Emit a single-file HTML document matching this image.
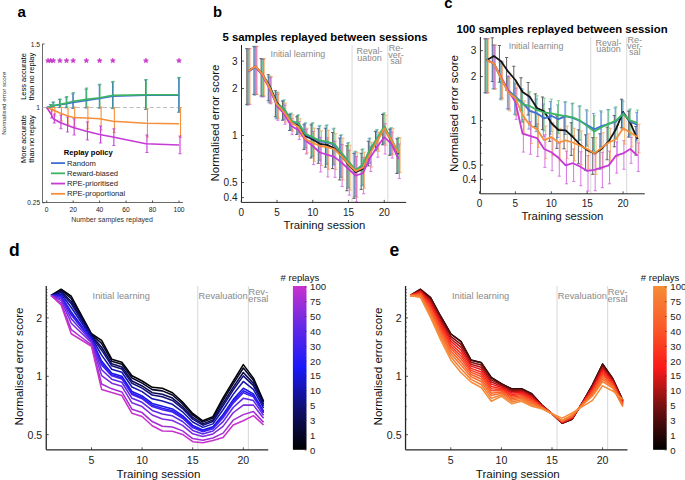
<!DOCTYPE html>
<html><head><meta charset="utf-8"><style>
html,body{margin:0;padding:0;background:#fff;}
svg{display:block;font-family:"Liberation Sans", sans-serif;}
</style></head><body>
<svg width="685" height="480" viewBox="0 0 685 480">
<rect width="685" height="480" fill="#fff"/>
<text x="17.60" y="17.10" font-size="15" text-anchor="start" font-weight="bold" fill="#000">a</text>
<line x1="42.50" y1="44.00" x2="42.50" y2="202.50" stroke="#444" stroke-width="0.8"/>
<line x1="42.50" y1="202.50" x2="183.00" y2="202.50" stroke="#444" stroke-width="0.8"/>
<line x1="42.50" y1="44.00" x2="44.50" y2="44.00" stroke="#262626" stroke-width="0.8"/>
<line x1="42.50" y1="107.50" x2="44.50" y2="107.50" stroke="#262626" stroke-width="0.8"/>
<line x1="42.50" y1="202.75" x2="44.50" y2="202.75" stroke="#262626" stroke-width="0.8"/>
<line x1="46.70" y1="202.50" x2="46.70" y2="200.50" stroke="#262626" stroke-width="0.8"/>
<text x="46.70" y="211.90" font-size="6.7" text-anchor="middle" font-weight="normal" fill="#222">0</text>
<line x1="73.16" y1="202.50" x2="73.16" y2="200.50" stroke="#262626" stroke-width="0.8"/>
<text x="73.16" y="211.90" font-size="6.7" text-anchor="middle" font-weight="normal" fill="#222">20</text>
<line x1="99.62" y1="202.50" x2="99.62" y2="200.50" stroke="#262626" stroke-width="0.8"/>
<text x="99.62" y="211.90" font-size="6.7" text-anchor="middle" font-weight="normal" fill="#222">40</text>
<line x1="126.08" y1="202.50" x2="126.08" y2="200.50" stroke="#262626" stroke-width="0.8"/>
<text x="126.08" y="211.90" font-size="6.7" text-anchor="middle" font-weight="normal" fill="#222">60</text>
<line x1="152.54" y1="202.50" x2="152.54" y2="200.50" stroke="#262626" stroke-width="0.8"/>
<text x="152.54" y="211.90" font-size="6.7" text-anchor="middle" font-weight="normal" fill="#222">80</text>
<line x1="179.00" y1="202.50" x2="179.00" y2="200.50" stroke="#262626" stroke-width="0.8"/>
<text x="179.00" y="211.90" font-size="6.7" text-anchor="middle" font-weight="normal" fill="#222">100</text>
<text x="40.00" y="46.60" font-size="6.7" text-anchor="end" font-weight="normal" fill="#222">1.5</text>
<text x="40.00" y="110.00" font-size="6.7" text-anchor="end" font-weight="normal" fill="#222">1</text>
<text x="40.00" y="205.00" font-size="6.5" text-anchor="end" font-weight="normal" fill="#222">0.25</text>
<text x="112.00" y="221.60" font-size="7" text-anchor="middle" font-weight="normal" fill="#333">Number samples replayed</text>
<text x="6.20" y="103.30" font-size="6.2" text-anchor="middle" font-weight="normal" fill="#333" transform="rotate(-90 6.2 103.3)">Normalised error score</text>
<text x="25.50" y="76.50" font-size="7.5" text-anchor="middle" font-weight="normal" fill="#000" transform="rotate(-90 25.5 76.5)">Less accurate</text>
<text x="33.50" y="76.50" font-size="7.5" text-anchor="middle" font-weight="normal" fill="#000" transform="rotate(-90 33.5 76.5)">than no replay</text>
<text x="25.50" y="139.00" font-size="7.5" text-anchor="middle" font-weight="normal" fill="#000" transform="rotate(-90 25.5 139)">More accurate</text>
<text x="33.50" y="139.00" font-size="7.5" text-anchor="middle" font-weight="normal" fill="#000" transform="rotate(-90 33.5 139)">than no replay</text>
<line x1="42.5" y1="107.5" x2="183" y2="107.5" stroke="#bdbdbd" stroke-width="1" stroke-dasharray="4,2.7"/>
<line x1="50.37" y1="104.70" x2="50.37" y2="107.40" stroke="#3f6fd6" stroke-width="1.1"/>
<line x1="48.77" y1="104.70" x2="51.97" y2="104.70" stroke="#3f6fd6" stroke-width="0.8"/>
<line x1="48.77" y1="107.40" x2="51.97" y2="107.40" stroke="#3f6fd6" stroke-width="0.8"/>
<line x1="53.02" y1="102.30" x2="53.02" y2="107.30" stroke="#3f6fd6" stroke-width="1.1"/>
<line x1="51.42" y1="102.30" x2="54.62" y2="102.30" stroke="#3f6fd6" stroke-width="0.8"/>
<line x1="51.42" y1="107.30" x2="54.62" y2="107.30" stroke="#3f6fd6" stroke-width="0.8"/>
<line x1="59.63" y1="99.50" x2="59.63" y2="107.50" stroke="#3f6fd6" stroke-width="1.1"/>
<line x1="58.03" y1="99.50" x2="61.23" y2="99.50" stroke="#3f6fd6" stroke-width="0.8"/>
<line x1="58.03" y1="107.50" x2="61.23" y2="107.50" stroke="#3f6fd6" stroke-width="0.8"/>
<line x1="66.25" y1="97.30" x2="66.25" y2="107.70" stroke="#3f6fd6" stroke-width="1.1"/>
<line x1="64.65" y1="97.30" x2="67.84" y2="97.30" stroke="#3f6fd6" stroke-width="0.8"/>
<line x1="64.65" y1="107.70" x2="67.84" y2="107.70" stroke="#3f6fd6" stroke-width="0.8"/>
<line x1="72.86" y1="93.80" x2="72.86" y2="108.50" stroke="#3f6fd6" stroke-width="1.1"/>
<line x1="71.26" y1="93.80" x2="74.46" y2="93.80" stroke="#3f6fd6" stroke-width="0.8"/>
<line x1="71.26" y1="108.50" x2="74.46" y2="108.50" stroke="#3f6fd6" stroke-width="0.8"/>
<line x1="86.09" y1="89.10" x2="86.09" y2="108.10" stroke="#3f6fd6" stroke-width="1.1"/>
<line x1="84.49" y1="89.10" x2="87.69" y2="89.10" stroke="#3f6fd6" stroke-width="0.8"/>
<line x1="84.49" y1="108.10" x2="87.69" y2="108.10" stroke="#3f6fd6" stroke-width="0.8"/>
<line x1="99.32" y1="84.90" x2="99.32" y2="108.20" stroke="#3f6fd6" stroke-width="1.1"/>
<line x1="97.72" y1="84.90" x2="100.92" y2="84.90" stroke="#3f6fd6" stroke-width="0.8"/>
<line x1="97.72" y1="108.20" x2="100.92" y2="108.20" stroke="#3f6fd6" stroke-width="0.8"/>
<line x1="112.55" y1="82.20" x2="112.55" y2="108.60" stroke="#3f6fd6" stroke-width="1.1"/>
<line x1="110.95" y1="82.20" x2="114.15" y2="82.20" stroke="#3f6fd6" stroke-width="0.8"/>
<line x1="110.95" y1="108.60" x2="114.15" y2="108.60" stroke="#3f6fd6" stroke-width="0.8"/>
<line x1="145.62" y1="80.00" x2="145.62" y2="109.50" stroke="#3f6fd6" stroke-width="1.1"/>
<line x1="144.03" y1="80.00" x2="147.22" y2="80.00" stroke="#3f6fd6" stroke-width="0.8"/>
<line x1="144.03" y1="109.50" x2="147.22" y2="109.50" stroke="#3f6fd6" stroke-width="0.8"/>
<line x1="178.70" y1="77.90" x2="178.70" y2="112.30" stroke="#3f6fd6" stroke-width="1.1"/>
<line x1="177.10" y1="77.90" x2="180.30" y2="77.90" stroke="#3f6fd6" stroke-width="0.8"/>
<line x1="177.10" y1="112.30" x2="180.30" y2="112.30" stroke="#3f6fd6" stroke-width="0.8"/>
<line x1="50.97" y1="104.50" x2="50.97" y2="107.20" stroke="#3db462" stroke-width="1.1"/>
<line x1="49.37" y1="104.50" x2="52.57" y2="104.50" stroke="#3db462" stroke-width="0.8"/>
<line x1="49.37" y1="107.20" x2="52.57" y2="107.20" stroke="#3db462" stroke-width="0.8"/>
<line x1="53.62" y1="102.00" x2="53.62" y2="107.00" stroke="#3db462" stroke-width="1.1"/>
<line x1="52.02" y1="102.00" x2="55.22" y2="102.00" stroke="#3db462" stroke-width="0.8"/>
<line x1="52.02" y1="107.00" x2="55.22" y2="107.00" stroke="#3db462" stroke-width="0.8"/>
<line x1="60.23" y1="99.00" x2="60.23" y2="107.00" stroke="#3db462" stroke-width="1.1"/>
<line x1="58.63" y1="99.00" x2="61.83" y2="99.00" stroke="#3db462" stroke-width="0.8"/>
<line x1="58.63" y1="107.00" x2="61.83" y2="107.00" stroke="#3db462" stroke-width="0.8"/>
<line x1="66.84" y1="96.60" x2="66.84" y2="107.00" stroke="#3db462" stroke-width="1.1"/>
<line x1="65.25" y1="96.60" x2="68.44" y2="96.60" stroke="#3db462" stroke-width="0.8"/>
<line x1="65.25" y1="107.00" x2="68.44" y2="107.00" stroke="#3db462" stroke-width="0.8"/>
<line x1="73.46" y1="92.60" x2="73.46" y2="107.30" stroke="#3db462" stroke-width="1.1"/>
<line x1="71.86" y1="92.60" x2="75.06" y2="92.60" stroke="#3db462" stroke-width="0.8"/>
<line x1="71.86" y1="107.30" x2="75.06" y2="107.30" stroke="#3db462" stroke-width="0.8"/>
<line x1="86.69" y1="88.00" x2="86.69" y2="107.00" stroke="#3db462" stroke-width="1.1"/>
<line x1="85.09" y1="88.00" x2="88.29" y2="88.00" stroke="#3db462" stroke-width="0.8"/>
<line x1="85.09" y1="107.00" x2="88.29" y2="107.00" stroke="#3db462" stroke-width="0.8"/>
<line x1="99.92" y1="84.20" x2="99.92" y2="107.50" stroke="#3db462" stroke-width="1.1"/>
<line x1="98.32" y1="84.20" x2="101.52" y2="84.20" stroke="#3db462" stroke-width="0.8"/>
<line x1="98.32" y1="107.50" x2="101.52" y2="107.50" stroke="#3db462" stroke-width="0.8"/>
<line x1="113.15" y1="81.40" x2="113.15" y2="107.80" stroke="#3db462" stroke-width="1.1"/>
<line x1="111.55" y1="81.40" x2="114.75" y2="81.40" stroke="#3db462" stroke-width="0.8"/>
<line x1="111.55" y1="107.80" x2="114.75" y2="107.80" stroke="#3db462" stroke-width="0.8"/>
<line x1="146.23" y1="79.50" x2="146.23" y2="109.00" stroke="#3db462" stroke-width="1.1"/>
<line x1="144.63" y1="79.50" x2="147.83" y2="79.50" stroke="#3db462" stroke-width="0.8"/>
<line x1="144.63" y1="109.00" x2="147.83" y2="109.00" stroke="#3db462" stroke-width="0.8"/>
<line x1="179.30" y1="77.40" x2="179.30" y2="111.80" stroke="#3db462" stroke-width="1.1"/>
<line x1="177.70" y1="77.40" x2="180.90" y2="77.40" stroke="#3db462" stroke-width="0.8"/>
<line x1="177.70" y1="111.80" x2="180.90" y2="111.80" stroke="#3db462" stroke-width="0.8"/>
<line x1="52.17" y1="107.50" x2="52.17" y2="111.00" stroke="#f58f3c" stroke-width="1.1"/>
<line x1="50.57" y1="107.50" x2="53.77" y2="107.50" stroke="#f58f3c" stroke-width="0.8"/>
<line x1="50.57" y1="111.00" x2="53.77" y2="111.00" stroke="#f58f3c" stroke-width="0.8"/>
<line x1="54.82" y1="107.50" x2="54.82" y2="116.00" stroke="#f58f3c" stroke-width="1.1"/>
<line x1="53.22" y1="107.50" x2="56.42" y2="107.50" stroke="#f58f3c" stroke-width="0.8"/>
<line x1="53.22" y1="116.00" x2="56.42" y2="116.00" stroke="#f58f3c" stroke-width="0.8"/>
<line x1="61.43" y1="107.50" x2="61.43" y2="121.00" stroke="#f58f3c" stroke-width="1.1"/>
<line x1="59.83" y1="107.50" x2="63.03" y2="107.50" stroke="#f58f3c" stroke-width="0.8"/>
<line x1="59.83" y1="121.00" x2="63.03" y2="121.00" stroke="#f58f3c" stroke-width="0.8"/>
<line x1="68.05" y1="108.75" x2="68.05" y2="124.50" stroke="#f58f3c" stroke-width="1.1"/>
<line x1="66.45" y1="108.75" x2="69.64" y2="108.75" stroke="#f58f3c" stroke-width="0.8"/>
<line x1="66.45" y1="124.50" x2="69.64" y2="124.50" stroke="#f58f3c" stroke-width="0.8"/>
<line x1="74.66" y1="107.00" x2="74.66" y2="126.75" stroke="#f58f3c" stroke-width="1.1"/>
<line x1="73.06" y1="107.00" x2="76.26" y2="107.00" stroke="#f58f3c" stroke-width="0.8"/>
<line x1="73.06" y1="126.75" x2="76.26" y2="126.75" stroke="#f58f3c" stroke-width="0.8"/>
<line x1="87.89" y1="107.00" x2="87.89" y2="128.75" stroke="#f58f3c" stroke-width="1.1"/>
<line x1="86.29" y1="107.00" x2="89.49" y2="107.00" stroke="#f58f3c" stroke-width="0.8"/>
<line x1="86.29" y1="128.75" x2="89.49" y2="128.75" stroke="#f58f3c" stroke-width="0.8"/>
<line x1="101.12" y1="107.00" x2="101.12" y2="130.00" stroke="#f58f3c" stroke-width="1.1"/>
<line x1="99.52" y1="107.00" x2="102.72" y2="107.00" stroke="#f58f3c" stroke-width="0.8"/>
<line x1="99.52" y1="130.00" x2="102.72" y2="130.00" stroke="#f58f3c" stroke-width="0.8"/>
<line x1="114.35" y1="107.50" x2="114.35" y2="132.50" stroke="#f58f3c" stroke-width="1.1"/>
<line x1="112.75" y1="107.50" x2="115.95" y2="107.50" stroke="#f58f3c" stroke-width="0.8"/>
<line x1="112.75" y1="132.50" x2="115.95" y2="132.50" stroke="#f58f3c" stroke-width="0.8"/>
<line x1="147.43" y1="108.75" x2="147.43" y2="137.00" stroke="#f58f3c" stroke-width="1.1"/>
<line x1="145.83" y1="108.75" x2="149.03" y2="108.75" stroke="#f58f3c" stroke-width="0.8"/>
<line x1="145.83" y1="137.00" x2="149.03" y2="137.00" stroke="#f58f3c" stroke-width="0.8"/>
<line x1="180.50" y1="107.50" x2="180.50" y2="137.50" stroke="#f58f3c" stroke-width="1.1"/>
<line x1="178.90" y1="107.50" x2="182.10" y2="107.50" stroke="#f58f3c" stroke-width="0.8"/>
<line x1="178.90" y1="137.50" x2="182.10" y2="137.50" stroke="#f58f3c" stroke-width="0.8"/>
<line x1="51.67" y1="109.50" x2="51.67" y2="118.00" stroke="#c63ad6" stroke-width="1.1"/>
<line x1="50.07" y1="109.50" x2="53.27" y2="109.50" stroke="#c63ad6" stroke-width="0.8"/>
<line x1="50.07" y1="118.00" x2="53.27" y2="118.00" stroke="#c63ad6" stroke-width="0.8"/>
<line x1="54.32" y1="114.00" x2="54.32" y2="123.00" stroke="#c63ad6" stroke-width="1.1"/>
<line x1="52.72" y1="114.00" x2="55.92" y2="114.00" stroke="#c63ad6" stroke-width="0.8"/>
<line x1="52.72" y1="123.00" x2="55.92" y2="123.00" stroke="#c63ad6" stroke-width="0.8"/>
<line x1="60.93" y1="115.00" x2="60.93" y2="128.75" stroke="#c63ad6" stroke-width="1.1"/>
<line x1="59.33" y1="115.00" x2="62.53" y2="115.00" stroke="#c63ad6" stroke-width="0.8"/>
<line x1="59.33" y1="128.75" x2="62.53" y2="128.75" stroke="#c63ad6" stroke-width="0.8"/>
<line x1="67.55" y1="117.00" x2="67.55" y2="132.00" stroke="#c63ad6" stroke-width="1.1"/>
<line x1="65.95" y1="117.00" x2="69.14" y2="117.00" stroke="#c63ad6" stroke-width="0.8"/>
<line x1="65.95" y1="132.00" x2="69.14" y2="132.00" stroke="#c63ad6" stroke-width="0.8"/>
<line x1="74.16" y1="118.75" x2="74.16" y2="135.00" stroke="#c63ad6" stroke-width="1.1"/>
<line x1="72.56" y1="118.75" x2="75.76" y2="118.75" stroke="#c63ad6" stroke-width="0.8"/>
<line x1="72.56" y1="135.00" x2="75.76" y2="135.00" stroke="#c63ad6" stroke-width="0.8"/>
<line x1="87.39" y1="122.00" x2="87.39" y2="140.00" stroke="#c63ad6" stroke-width="1.1"/>
<line x1="85.79" y1="122.00" x2="88.99" y2="122.00" stroke="#c63ad6" stroke-width="0.8"/>
<line x1="85.79" y1="140.00" x2="88.99" y2="140.00" stroke="#c63ad6" stroke-width="0.8"/>
<line x1="100.62" y1="126.00" x2="100.62" y2="143.00" stroke="#c63ad6" stroke-width="1.1"/>
<line x1="99.02" y1="126.00" x2="102.22" y2="126.00" stroke="#c63ad6" stroke-width="0.8"/>
<line x1="99.02" y1="143.00" x2="102.22" y2="143.00" stroke="#c63ad6" stroke-width="0.8"/>
<line x1="113.85" y1="128.75" x2="113.85" y2="145.50" stroke="#c63ad6" stroke-width="1.1"/>
<line x1="112.25" y1="128.75" x2="115.45" y2="128.75" stroke="#c63ad6" stroke-width="0.8"/>
<line x1="112.25" y1="145.50" x2="115.45" y2="145.50" stroke="#c63ad6" stroke-width="0.8"/>
<line x1="146.93" y1="135.00" x2="146.93" y2="152.50" stroke="#c63ad6" stroke-width="1.1"/>
<line x1="145.33" y1="135.00" x2="148.53" y2="135.00" stroke="#c63ad6" stroke-width="0.8"/>
<line x1="145.33" y1="152.50" x2="148.53" y2="152.50" stroke="#c63ad6" stroke-width="0.8"/>
<line x1="180.00" y1="136.00" x2="180.00" y2="153.75" stroke="#c63ad6" stroke-width="1.1"/>
<line x1="178.40" y1="136.00" x2="181.60" y2="136.00" stroke="#c63ad6" stroke-width="0.8"/>
<line x1="178.40" y1="153.75" x2="181.60" y2="153.75" stroke="#c63ad6" stroke-width="0.8"/>
<polyline points="46.70,107.50 50.67,106.70 53.32,105.80 59.93,104.80 66.55,103.80 73.16,102.50 86.39,100.50 99.62,98.50 112.85,96.20 145.93,95.20 179.00,95.20" fill="none" stroke="#3f6fd6" stroke-width="1.6" stroke-linejoin="round"/>
<polyline points="46.70,107.50 50.67,106.50 53.32,105.50 59.93,104.30 66.55,103.10 73.16,101.30 86.39,99.40 99.62,97.80 112.85,95.40 145.93,94.70 179.00,94.70" fill="none" stroke="#3db462" stroke-width="1.6" stroke-linejoin="round"/>
<polyline points="46.70,107.50 50.67,109.00 53.32,110.00 59.93,113.00 66.55,115.50 73.16,117.50 86.39,118.00 99.62,118.75 112.85,121.25 145.93,123.25 179.00,123.75" fill="none" stroke="#f58f3c" stroke-width="1.6" stroke-linejoin="round"/>
<polyline points="46.70,107.50 50.67,113.50 53.32,118.75 59.93,122.50 66.55,125.00 73.16,127.50 86.39,131.25 99.62,134.50 112.85,137.00 145.93,143.75 179.00,145.00" fill="none" stroke="#c63ad6" stroke-width="1.6" stroke-linejoin="round"/>
<polygon points="48.02,58.10 48.71,59.75 50.50,59.90 49.14,61.06 49.55,62.80 48.02,61.87 46.49,62.80 46.91,61.06 45.55,59.90 47.34,59.75" fill="#c83ccc" stroke="#c83ccc" stroke-width="0.6" stroke-linejoin="round"/>
<polygon points="50.67,58.10 51.36,59.75 53.14,59.90 51.78,61.06 52.20,62.80 50.67,61.87 49.14,62.80 49.56,61.06 48.20,59.90 49.98,59.75" fill="#c83ccc" stroke="#c83ccc" stroke-width="0.6" stroke-linejoin="round"/>
<polygon points="53.32,58.10 54.00,59.75 55.79,59.90 54.43,61.06 54.84,62.80 53.32,61.87 51.79,62.80 52.20,61.06 50.84,59.90 52.63,59.75" fill="#c83ccc" stroke="#c83ccc" stroke-width="0.6" stroke-linejoin="round"/>
<polygon points="59.93,58.10 60.62,59.75 62.40,59.90 61.04,61.06 61.46,62.80 59.93,61.87 58.40,62.80 58.82,61.06 57.46,59.90 59.24,59.75" fill="#c83ccc" stroke="#c83ccc" stroke-width="0.6" stroke-linejoin="round"/>
<polygon points="66.55,58.10 67.23,59.75 69.02,59.90 67.66,61.06 68.07,62.80 66.55,61.87 65.02,62.80 65.43,61.06 64.07,59.90 65.86,59.75" fill="#c83ccc" stroke="#c83ccc" stroke-width="0.6" stroke-linejoin="round"/>
<polygon points="73.16,58.10 73.85,59.75 75.63,59.90 74.27,61.06 74.69,62.80 73.16,61.87 71.63,62.80 72.05,61.06 70.69,59.90 72.47,59.75" fill="#c83ccc" stroke="#c83ccc" stroke-width="0.6" stroke-linejoin="round"/>
<polygon points="86.39,58.10 87.08,59.75 88.86,59.90 87.50,61.06 87.92,62.80 86.39,61.87 84.86,62.80 85.28,61.06 83.92,59.90 85.70,59.75" fill="#c83ccc" stroke="#c83ccc" stroke-width="0.6" stroke-linejoin="round"/>
<polygon points="99.62,58.10 100.31,59.75 102.09,59.90 100.73,61.06 101.15,62.80 99.62,61.87 98.09,62.80 98.51,61.06 97.15,59.90 98.93,59.75" fill="#c83ccc" stroke="#c83ccc" stroke-width="0.6" stroke-linejoin="round"/>
<polygon points="112.85,58.10 113.54,59.75 115.32,59.90 113.96,61.06 114.38,62.80 112.85,61.87 111.32,62.80 111.74,61.06 110.38,59.90 112.16,59.75" fill="#c83ccc" stroke="#c83ccc" stroke-width="0.6" stroke-linejoin="round"/>
<polygon points="145.93,58.10 146.61,59.75 148.40,59.90 147.04,61.06 147.45,62.80 145.93,61.87 144.40,62.80 144.81,61.06 143.45,59.90 145.24,59.75" fill="#c83ccc" stroke="#c83ccc" stroke-width="0.6" stroke-linejoin="round"/>
<polygon points="179.00,58.10 179.69,59.75 181.47,59.90 180.11,61.06 180.53,62.80 179.00,61.87 177.47,62.80 177.89,61.06 176.53,59.90 178.31,59.75" fill="#c83ccc" stroke="#c83ccc" stroke-width="0.6" stroke-linejoin="round"/>
<text x="88.30" y="154.60" font-size="7.6" text-anchor="middle" font-weight="bold" fill="#000">Replay policy</text>
<line x1="51.00" y1="163.10" x2="65.00" y2="163.10" stroke="#3f6fd6" stroke-width="1.8"/>
<text x="67.00" y="165.70" font-size="7.6" text-anchor="start" font-weight="normal" fill="#222">Random</text>
<line x1="51.00" y1="173.33" x2="65.00" y2="173.33" stroke="#3db462" stroke-width="1.8"/>
<text x="67.00" y="175.93" font-size="7.6" text-anchor="start" font-weight="normal" fill="#222">Reward-biased</text>
<line x1="51.00" y1="183.56" x2="65.00" y2="183.56" stroke="#c63ad6" stroke-width="1.8"/>
<text x="67.00" y="186.16" font-size="7.6" text-anchor="start" font-weight="normal" fill="#222">RPE-prioritised</text>
<line x1="51.00" y1="193.79" x2="65.00" y2="193.79" stroke="#f58f3c" stroke-width="1.8"/>
<text x="67.00" y="196.39" font-size="7.6" text-anchor="start" font-weight="normal" fill="#222">RPE-proportional</text>
<text x="213.00" y="16.90" font-size="14.8" text-anchor="start" font-weight="bold" fill="#000">b</text>
<text x="325.00" y="40.70" font-size="11.35" text-anchor="middle" font-weight="bold" fill="#000">5 samples replayed between sessions</text>
<line x1="352.07" y1="45.00" x2="352.07" y2="202.40" stroke="#cdcdcd" stroke-width="0.8"/>
<line x1="387.83" y1="45.00" x2="387.83" y2="202.40" stroke="#cdcdcd" stroke-width="0.8"/>
<line x1="241.50" y1="45.00" x2="241.50" y2="202.40" stroke="#262626" stroke-width="1"/>
<line x1="241.50" y1="202.40" x2="406.20" y2="202.40" stroke="#262626" stroke-width="1"/>
<line x1="241.50" y1="61.07" x2="244.00" y2="61.07" stroke="#262626" stroke-width="0.8"/>
<text x="237.50" y="64.67" font-size="10" text-anchor="end" font-weight="normal" fill="#222">3</text>
<line x1="241.50" y1="88.54" x2="244.00" y2="88.54" stroke="#262626" stroke-width="0.8"/>
<text x="237.50" y="92.14" font-size="10" text-anchor="end" font-weight="normal" fill="#222">2</text>
<line x1="241.50" y1="135.50" x2="244.00" y2="135.50" stroke="#262626" stroke-width="0.8"/>
<text x="237.50" y="139.10" font-size="10" text-anchor="end" font-weight="normal" fill="#222">1</text>
<line x1="241.50" y1="182.46" x2="244.00" y2="182.46" stroke="#262626" stroke-width="0.8"/>
<text x="237.50" y="186.06" font-size="10" text-anchor="end" font-weight="normal" fill="#222">0.5</text>
<line x1="241.50" y1="197.58" x2="244.00" y2="197.58" stroke="#262626" stroke-width="0.8"/>
<text x="237.50" y="201.18" font-size="10" text-anchor="end" font-weight="normal" fill="#222">0.4</text>
<line x1="241.50" y1="170.11" x2="242.90" y2="170.11" stroke="#262626" stroke-width="0.6"/>
<line x1="241.50" y1="159.66" x2="242.90" y2="159.66" stroke="#262626" stroke-width="0.6"/>
<line x1="241.50" y1="150.62" x2="242.90" y2="150.62" stroke="#262626" stroke-width="0.6"/>
<line x1="241.50" y1="142.64" x2="242.90" y2="142.64" stroke="#262626" stroke-width="0.6"/>
<line x1="241.25" y1="202.40" x2="241.25" y2="199.90" stroke="#262626" stroke-width="0.8"/>
<text x="241.25" y="216.00" font-size="10" text-anchor="middle" font-weight="normal" fill="#222">0</text>
<line x1="277.00" y1="202.40" x2="277.00" y2="199.90" stroke="#262626" stroke-width="0.8"/>
<text x="277.00" y="216.00" font-size="10" text-anchor="middle" font-weight="normal" fill="#222">5</text>
<line x1="312.75" y1="202.40" x2="312.75" y2="199.90" stroke="#262626" stroke-width="0.8"/>
<text x="312.75" y="216.00" font-size="10" text-anchor="middle" font-weight="normal" fill="#222">10</text>
<line x1="348.50" y1="202.40" x2="348.50" y2="199.90" stroke="#262626" stroke-width="0.8"/>
<text x="348.50" y="216.00" font-size="10" text-anchor="middle" font-weight="normal" fill="#222">15</text>
<line x1="384.25" y1="202.40" x2="384.25" y2="199.90" stroke="#262626" stroke-width="0.8"/>
<text x="384.25" y="216.00" font-size="10" text-anchor="middle" font-weight="normal" fill="#222">20</text>
<text x="324.40" y="228.80" font-size="11.3" text-anchor="middle" font-weight="normal" fill="#111">Training session</text>
<text x="218.80" y="123.00" font-size="11.5" text-anchor="middle" font-weight="normal" fill="#111" transform="rotate(-90 218.8 123)">Normalised error score</text>
<text x="270.50" y="57.00" font-size="8.9" text-anchor="start" font-weight="normal" fill="#8a8a8a">Initial learning</text>
<text x="369.50" y="53.80" font-size="9" text-anchor="middle" font-weight="normal" fill="#8a8a8a">Reval-</text>
<text x="369.50" y="60.60" font-size="9" text-anchor="middle" font-weight="normal" fill="#8a8a8a">uation</text>
<text x="396.00" y="50.70" font-size="9" text-anchor="middle" font-weight="normal" fill="#8a8a8a">Re-</text>
<text x="396.00" y="57.70" font-size="9" text-anchor="middle" font-weight="normal" fill="#8a8a8a">ver-</text>
<text x="396.00" y="63.70" font-size="9" text-anchor="middle" font-weight="normal" fill="#8a8a8a">sal</text>
<g stroke="#151515" opacity="0.8"><line x1="246.80" y1="48.59" x2="246.80" y2="104.39" stroke-width="0.85"/><line x1="245.20" y1="48.59" x2="248.40" y2="48.59" stroke-width="0.8"/><line x1="245.20" y1="104.39" x2="248.40" y2="104.39" stroke-width="0.8"/></g>
<g stroke="#151515" opacity="0.8"><line x1="253.95" y1="46.42" x2="253.95" y2="94.40" stroke-width="0.85"/><line x1="252.35" y1="46.42" x2="255.55" y2="46.42" stroke-width="0.8"/><line x1="252.35" y1="94.40" x2="255.55" y2="94.40" stroke-width="0.8"/></g>
<g stroke="#151515" opacity="0.8"><line x1="261.10" y1="58.51" x2="261.10" y2="96.02" stroke-width="0.85"/><line x1="259.50" y1="58.51" x2="262.70" y2="58.51" stroke-width="0.8"/><line x1="259.50" y1="96.02" x2="262.70" y2="96.02" stroke-width="0.8"/></g>
<g stroke="#151515" opacity="0.8"><line x1="268.25" y1="74.71" x2="268.25" y2="100.78" stroke-width="0.85"/><line x1="266.65" y1="74.71" x2="269.85" y2="74.71" stroke-width="0.8"/><line x1="266.65" y1="100.78" x2="269.85" y2="100.78" stroke-width="0.8"/></g>
<g stroke="#151515" opacity="0.8"><line x1="275.40" y1="90.71" x2="275.40" y2="116.78" stroke-width="0.85"/><line x1="273.80" y1="90.71" x2="277.00" y2="90.71" stroke-width="0.8"/><line x1="273.80" y1="116.78" x2="277.00" y2="116.78" stroke-width="0.8"/></g>
<g stroke="#151515" opacity="0.8"><line x1="282.55" y1="101.12" x2="282.55" y2="120.22" stroke-width="0.85"/><line x1="280.95" y1="101.12" x2="284.15" y2="101.12" stroke-width="0.8"/><line x1="280.95" y1="120.22" x2="284.15" y2="120.22" stroke-width="0.8"/></g>
<g stroke="#151515" opacity="0.8"><line x1="289.70" y1="114.22" x2="289.70" y2="130.56" stroke-width="0.85"/><line x1="288.10" y1="114.22" x2="291.30" y2="114.22" stroke-width="0.8"/><line x1="288.10" y1="130.56" x2="291.30" y2="130.56" stroke-width="0.8"/></g>
<g stroke="#151515" opacity="0.8"><line x1="296.85" y1="116.72" x2="296.85" y2="134.43" stroke-width="0.85"/><line x1="295.25" y1="116.72" x2="298.45" y2="116.72" stroke-width="0.8"/><line x1="295.25" y1="134.43" x2="298.45" y2="134.43" stroke-width="0.8"/></g>
<g stroke="#151515" opacity="0.8"><line x1="304.00" y1="124.79" x2="304.00" y2="149.45" stroke-width="0.85"/><line x1="302.40" y1="124.79" x2="305.60" y2="124.79" stroke-width="0.8"/><line x1="302.40" y1="149.45" x2="305.60" y2="149.45" stroke-width="0.8"/></g>
<g stroke="#151515" opacity="0.8"><line x1="311.15" y1="124.83" x2="311.15" y2="157.99" stroke-width="0.85"/><line x1="309.55" y1="124.83" x2="312.75" y2="124.83" stroke-width="0.8"/><line x1="309.55" y1="157.99" x2="312.75" y2="157.99" stroke-width="0.8"/></g>
<g stroke="#151515" opacity="0.8"><line x1="318.30" y1="128.68" x2="318.30" y2="163.29" stroke-width="0.85"/><line x1="316.70" y1="128.68" x2="319.90" y2="128.68" stroke-width="0.8"/><line x1="316.70" y1="163.29" x2="319.90" y2="163.29" stroke-width="0.8"/></g>
<g stroke="#151515" opacity="0.8"><line x1="325.45" y1="128.18" x2="325.45" y2="167.16" stroke-width="0.85"/><line x1="323.85" y1="128.18" x2="327.05" y2="128.18" stroke-width="0.8"/><line x1="323.85" y1="167.16" x2="327.05" y2="167.16" stroke-width="0.8"/></g>
<g stroke="#151515" opacity="0.8"><line x1="332.60" y1="132.54" x2="332.60" y2="168.60" stroke-width="0.85"/><line x1="331.00" y1="132.54" x2="334.20" y2="132.54" stroke-width="0.8"/><line x1="331.00" y1="168.60" x2="334.20" y2="168.60" stroke-width="0.8"/></g>
<g stroke="#151515" opacity="0.8"><line x1="339.75" y1="138.02" x2="339.75" y2="179.96" stroke-width="0.85"/><line x1="338.15" y1="138.02" x2="341.35" y2="138.02" stroke-width="0.8"/><line x1="338.15" y1="179.96" x2="341.35" y2="179.96" stroke-width="0.8"/></g>
<g stroke="#151515" opacity="0.8"><line x1="346.90" y1="145.79" x2="346.90" y2="190.73" stroke-width="0.85"/><line x1="345.30" y1="145.79" x2="348.50" y2="145.79" stroke-width="0.8"/><line x1="345.30" y1="190.73" x2="348.50" y2="190.73" stroke-width="0.8"/></g>
<g stroke="#151515" opacity="0.8"><line x1="354.05" y1="153.39" x2="354.05" y2="198.33" stroke-width="0.85"/><line x1="352.45" y1="153.39" x2="355.65" y2="153.39" stroke-width="0.8"/><line x1="352.45" y1="198.33" x2="355.65" y2="198.33" stroke-width="0.8"/></g>
<g stroke="#151515" opacity="0.8"><line x1="361.20" y1="153.34" x2="361.20" y2="189.40" stroke-width="0.85"/><line x1="359.60" y1="153.34" x2="362.80" y2="153.34" stroke-width="0.8"/><line x1="359.60" y1="189.40" x2="362.80" y2="189.40" stroke-width="0.8"/></g>
<g stroke="#151515" opacity="0.8"><line x1="368.35" y1="141.29" x2="368.35" y2="165.95" stroke-width="0.85"/><line x1="366.75" y1="141.29" x2="369.95" y2="141.29" stroke-width="0.8"/><line x1="366.75" y1="165.95" x2="369.95" y2="165.95" stroke-width="0.8"/></g>
<g stroke="#151515" opacity="0.8"><line x1="375.50" y1="131.62" x2="375.50" y2="150.72" stroke-width="0.85"/><line x1="373.90" y1="131.62" x2="377.10" y2="131.62" stroke-width="0.8"/><line x1="373.90" y1="150.72" x2="377.10" y2="150.72" stroke-width="0.8"/></g>
<g stroke="#151515" opacity="0.8"><line x1="382.65" y1="114.53" x2="382.65" y2="144.83" stroke-width="0.85"/><line x1="381.05" y1="114.53" x2="384.25" y2="114.53" stroke-width="0.8"/><line x1="381.05" y1="144.83" x2="384.25" y2="144.83" stroke-width="0.8"/></g>
<g stroke="#151515" opacity="0.8"><line x1="389.80" y1="129.21" x2="389.80" y2="155.28" stroke-width="0.85"/><line x1="388.20" y1="129.21" x2="391.40" y2="129.21" stroke-width="0.8"/><line x1="388.20" y1="155.28" x2="391.40" y2="155.28" stroke-width="0.8"/></g>
<g stroke="#151515" opacity="0.8"><line x1="396.95" y1="138.88" x2="396.95" y2="173.49" stroke-width="0.85"/><line x1="395.35" y1="138.88" x2="398.55" y2="138.88" stroke-width="0.8"/><line x1="395.35" y1="173.49" x2="398.55" y2="173.49" stroke-width="0.8"/></g>
<g stroke="#3f6fd6" opacity="0.8"><line x1="247.60" y1="49.39" x2="247.60" y2="105.19" stroke-width="0.85"/><line x1="246.00" y1="49.39" x2="249.20" y2="49.39" stroke-width="0.8"/><line x1="246.00" y1="105.19" x2="249.20" y2="105.19" stroke-width="0.8"/></g>
<g stroke="#3f6fd6" opacity="0.8"><line x1="254.75" y1="47.22" x2="254.75" y2="95.20" stroke-width="0.85"/><line x1="253.15" y1="47.22" x2="256.35" y2="47.22" stroke-width="0.8"/><line x1="253.15" y1="95.20" x2="256.35" y2="95.20" stroke-width="0.8"/></g>
<g stroke="#3f6fd6" opacity="0.8"><line x1="261.90" y1="59.31" x2="261.90" y2="96.82" stroke-width="0.85"/><line x1="260.30" y1="59.31" x2="263.50" y2="59.31" stroke-width="0.8"/><line x1="260.30" y1="96.82" x2="263.50" y2="96.82" stroke-width="0.8"/></g>
<g stroke="#3f6fd6" opacity="0.8"><line x1="269.05" y1="76.81" x2="269.05" y2="102.88" stroke-width="0.85"/><line x1="267.45" y1="76.81" x2="270.65" y2="76.81" stroke-width="0.8"/><line x1="267.45" y1="102.88" x2="270.65" y2="102.88" stroke-width="0.8"/></g>
<g stroke="#3f6fd6" opacity="0.8"><line x1="276.20" y1="92.76" x2="276.20" y2="118.83" stroke-width="0.85"/><line x1="274.60" y1="92.76" x2="277.80" y2="92.76" stroke-width="0.8"/><line x1="274.60" y1="118.83" x2="277.80" y2="118.83" stroke-width="0.8"/></g>
<g stroke="#3f6fd6" opacity="0.8"><line x1="283.35" y1="100.67" x2="283.35" y2="119.77" stroke-width="0.85"/><line x1="281.75" y1="100.67" x2="284.95" y2="100.67" stroke-width="0.8"/><line x1="281.75" y1="119.77" x2="284.95" y2="119.77" stroke-width="0.8"/></g>
<g stroke="#3f6fd6" opacity="0.8"><line x1="290.50" y1="113.92" x2="290.50" y2="130.26" stroke-width="0.85"/><line x1="288.90" y1="113.92" x2="292.10" y2="113.92" stroke-width="0.8"/><line x1="288.90" y1="130.26" x2="292.10" y2="130.26" stroke-width="0.8"/></g>
<g stroke="#3f6fd6" opacity="0.8"><line x1="297.65" y1="115.52" x2="297.65" y2="133.23" stroke-width="0.85"/><line x1="296.05" y1="115.52" x2="299.25" y2="115.52" stroke-width="0.8"/><line x1="296.05" y1="133.23" x2="299.25" y2="133.23" stroke-width="0.8"/></g>
<g stroke="#3f6fd6" opacity="0.8"><line x1="304.80" y1="123.49" x2="304.80" y2="148.15" stroke-width="0.85"/><line x1="303.20" y1="123.49" x2="306.40" y2="123.49" stroke-width="0.8"/><line x1="303.20" y1="148.15" x2="306.40" y2="148.15" stroke-width="0.8"/></g>
<g stroke="#3f6fd6" opacity="0.8"><line x1="311.95" y1="123.43" x2="311.95" y2="156.59" stroke-width="0.85"/><line x1="310.35" y1="123.43" x2="313.55" y2="123.43" stroke-width="0.8"/><line x1="310.35" y1="156.59" x2="313.55" y2="156.59" stroke-width="0.8"/></g>
<g stroke="#3f6fd6" opacity="0.8"><line x1="319.10" y1="126.18" x2="319.10" y2="160.79" stroke-width="0.85"/><line x1="317.50" y1="126.18" x2="320.70" y2="126.18" stroke-width="0.8"/><line x1="317.50" y1="160.79" x2="320.70" y2="160.79" stroke-width="0.8"/></g>
<g stroke="#3f6fd6" opacity="0.8"><line x1="326.25" y1="125.68" x2="326.25" y2="164.66" stroke-width="0.85"/><line x1="324.65" y1="125.68" x2="327.85" y2="125.68" stroke-width="0.8"/><line x1="324.65" y1="164.66" x2="327.85" y2="164.66" stroke-width="0.8"/></g>
<g stroke="#3f6fd6" opacity="0.8"><line x1="333.40" y1="128.94" x2="333.40" y2="165.00" stroke-width="0.85"/><line x1="331.80" y1="128.94" x2="335.00" y2="128.94" stroke-width="0.8"/><line x1="331.80" y1="165.00" x2="335.00" y2="165.00" stroke-width="0.8"/></g>
<g stroke="#3f6fd6" opacity="0.8"><line x1="340.55" y1="135.52" x2="340.55" y2="177.46" stroke-width="0.85"/><line x1="338.95" y1="135.52" x2="342.15" y2="135.52" stroke-width="0.8"/><line x1="338.95" y1="177.46" x2="342.15" y2="177.46" stroke-width="0.8"/></g>
<g stroke="#3f6fd6" opacity="0.8"><line x1="347.70" y1="143.29" x2="347.70" y2="188.23" stroke-width="0.85"/><line x1="346.10" y1="143.29" x2="349.30" y2="143.29" stroke-width="0.8"/><line x1="346.10" y1="188.23" x2="349.30" y2="188.23" stroke-width="0.8"/></g>
<g stroke="#3f6fd6" opacity="0.8"><line x1="354.85" y1="151.99" x2="354.85" y2="196.93" stroke-width="0.85"/><line x1="353.25" y1="151.99" x2="356.45" y2="151.99" stroke-width="0.8"/><line x1="353.25" y1="196.93" x2="356.45" y2="196.93" stroke-width="0.8"/></g>
<g stroke="#3f6fd6" opacity="0.8"><line x1="362.00" y1="149.74" x2="362.00" y2="185.80" stroke-width="0.85"/><line x1="360.40" y1="149.74" x2="363.60" y2="149.74" stroke-width="0.8"/><line x1="360.40" y1="185.80" x2="363.60" y2="185.80" stroke-width="0.8"/></g>
<g stroke="#3f6fd6" opacity="0.8"><line x1="369.15" y1="138.79" x2="369.15" y2="163.45" stroke-width="0.85"/><line x1="367.55" y1="138.79" x2="370.75" y2="138.79" stroke-width="0.8"/><line x1="367.55" y1="163.45" x2="370.75" y2="163.45" stroke-width="0.8"/></g>
<g stroke="#3f6fd6" opacity="0.8"><line x1="376.30" y1="130.22" x2="376.30" y2="149.32" stroke-width="0.85"/><line x1="374.70" y1="130.22" x2="377.90" y2="130.22" stroke-width="0.8"/><line x1="374.70" y1="149.32" x2="377.90" y2="149.32" stroke-width="0.8"/></g>
<g stroke="#3f6fd6" opacity="0.8"><line x1="383.45" y1="113.63" x2="383.45" y2="143.93" stroke-width="0.85"/><line x1="381.85" y1="113.63" x2="385.05" y2="113.63" stroke-width="0.8"/><line x1="381.85" y1="143.93" x2="385.05" y2="143.93" stroke-width="0.8"/></g>
<g stroke="#3f6fd6" opacity="0.8"><line x1="390.60" y1="128.41" x2="390.60" y2="154.48" stroke-width="0.85"/><line x1="389.00" y1="128.41" x2="392.20" y2="128.41" stroke-width="0.8"/><line x1="389.00" y1="154.48" x2="392.20" y2="154.48" stroke-width="0.8"/></g>
<g stroke="#3f6fd6" opacity="0.8"><line x1="397.75" y1="138.18" x2="397.75" y2="172.79" stroke-width="0.85"/><line x1="396.15" y1="138.18" x2="399.35" y2="138.18" stroke-width="0.8"/><line x1="396.15" y1="172.79" x2="399.35" y2="172.79" stroke-width="0.8"/></g>
<g stroke="#3db462" opacity="0.8"><line x1="248.40" y1="48.59" x2="248.40" y2="104.39" stroke-width="0.85"/><line x1="246.80" y1="48.59" x2="250.00" y2="48.59" stroke-width="0.8"/><line x1="246.80" y1="104.39" x2="250.00" y2="104.39" stroke-width="0.8"/></g>
<g stroke="#3db462" opacity="0.8"><line x1="255.55" y1="46.42" x2="255.55" y2="94.40" stroke-width="0.85"/><line x1="253.95" y1="46.42" x2="257.15" y2="46.42" stroke-width="0.8"/><line x1="253.95" y1="94.40" x2="257.15" y2="94.40" stroke-width="0.8"/></g>
<g stroke="#3db462" opacity="0.8"><line x1="262.70" y1="58.51" x2="262.70" y2="96.02" stroke-width="0.85"/><line x1="261.10" y1="58.51" x2="264.30" y2="58.51" stroke-width="0.8"/><line x1="261.10" y1="96.02" x2="264.30" y2="96.02" stroke-width="0.8"/></g>
<g stroke="#3db462" opacity="0.8"><line x1="269.85" y1="76.01" x2="269.85" y2="102.08" stroke-width="0.85"/><line x1="268.25" y1="76.01" x2="271.45" y2="76.01" stroke-width="0.8"/><line x1="268.25" y1="102.08" x2="271.45" y2="102.08" stroke-width="0.8"/></g>
<g stroke="#3db462" opacity="0.8"><line x1="277.00" y1="91.96" x2="277.00" y2="118.03" stroke-width="0.85"/><line x1="275.40" y1="91.96" x2="278.60" y2="91.96" stroke-width="0.8"/><line x1="275.40" y1="118.03" x2="278.60" y2="118.03" stroke-width="0.8"/></g>
<g stroke="#3db462" opacity="0.8"><line x1="284.15" y1="99.87" x2="284.15" y2="118.97" stroke-width="0.85"/><line x1="282.55" y1="99.87" x2="285.75" y2="99.87" stroke-width="0.8"/><line x1="282.55" y1="118.97" x2="285.75" y2="118.97" stroke-width="0.8"/></g>
<g stroke="#3db462" opacity="0.8"><line x1="291.30" y1="113.12" x2="291.30" y2="129.46" stroke-width="0.85"/><line x1="289.70" y1="113.12" x2="292.90" y2="113.12" stroke-width="0.8"/><line x1="289.70" y1="129.46" x2="292.90" y2="129.46" stroke-width="0.8"/></g>
<g stroke="#3db462" opacity="0.8"><line x1="298.45" y1="114.72" x2="298.45" y2="132.43" stroke-width="0.85"/><line x1="296.85" y1="114.72" x2="300.05" y2="114.72" stroke-width="0.8"/><line x1="296.85" y1="132.43" x2="300.05" y2="132.43" stroke-width="0.8"/></g>
<g stroke="#3db462" opacity="0.8"><line x1="305.60" y1="122.69" x2="305.60" y2="147.35" stroke-width="0.85"/><line x1="304.00" y1="122.69" x2="307.20" y2="122.69" stroke-width="0.8"/><line x1="304.00" y1="147.35" x2="307.20" y2="147.35" stroke-width="0.8"/></g>
<g stroke="#3db462" opacity="0.8"><line x1="312.75" y1="122.63" x2="312.75" y2="155.79" stroke-width="0.85"/><line x1="311.15" y1="122.63" x2="314.35" y2="122.63" stroke-width="0.8"/><line x1="311.15" y1="155.79" x2="314.35" y2="155.79" stroke-width="0.8"/></g>
<g stroke="#3db462" opacity="0.8"><line x1="319.90" y1="125.38" x2="319.90" y2="159.99" stroke-width="0.85"/><line x1="318.30" y1="125.38" x2="321.50" y2="125.38" stroke-width="0.8"/><line x1="318.30" y1="159.99" x2="321.50" y2="159.99" stroke-width="0.8"/></g>
<g stroke="#3db462" opacity="0.8"><line x1="327.05" y1="124.88" x2="327.05" y2="163.86" stroke-width="0.85"/><line x1="325.45" y1="124.88" x2="328.65" y2="124.88" stroke-width="0.8"/><line x1="325.45" y1="163.86" x2="328.65" y2="163.86" stroke-width="0.8"/></g>
<g stroke="#3db462" opacity="0.8"><line x1="334.20" y1="128.14" x2="334.20" y2="164.20" stroke-width="0.85"/><line x1="332.60" y1="128.14" x2="335.80" y2="128.14" stroke-width="0.8"/><line x1="332.60" y1="164.20" x2="335.80" y2="164.20" stroke-width="0.8"/></g>
<g stroke="#3db462" opacity="0.8"><line x1="341.35" y1="134.72" x2="341.35" y2="176.66" stroke-width="0.85"/><line x1="339.75" y1="134.72" x2="342.95" y2="134.72" stroke-width="0.8"/><line x1="339.75" y1="176.66" x2="342.95" y2="176.66" stroke-width="0.8"/></g>
<g stroke="#3db462" opacity="0.8"><line x1="348.50" y1="142.49" x2="348.50" y2="187.43" stroke-width="0.85"/><line x1="346.90" y1="142.49" x2="350.10" y2="142.49" stroke-width="0.8"/><line x1="346.90" y1="187.43" x2="350.10" y2="187.43" stroke-width="0.8"/></g>
<g stroke="#3db462" opacity="0.8"><line x1="355.65" y1="151.19" x2="355.65" y2="196.13" stroke-width="0.85"/><line x1="354.05" y1="151.19" x2="357.25" y2="151.19" stroke-width="0.8"/><line x1="354.05" y1="196.13" x2="357.25" y2="196.13" stroke-width="0.8"/></g>
<g stroke="#3db462" opacity="0.8"><line x1="362.80" y1="148.94" x2="362.80" y2="185.00" stroke-width="0.85"/><line x1="361.20" y1="148.94" x2="364.40" y2="148.94" stroke-width="0.8"/><line x1="361.20" y1="185.00" x2="364.40" y2="185.00" stroke-width="0.8"/></g>
<g stroke="#3db462" opacity="0.8"><line x1="369.95" y1="137.99" x2="369.95" y2="162.65" stroke-width="0.85"/><line x1="368.35" y1="137.99" x2="371.55" y2="137.99" stroke-width="0.8"/><line x1="368.35" y1="162.65" x2="371.55" y2="162.65" stroke-width="0.8"/></g>
<g stroke="#3db462" opacity="0.8"><line x1="377.10" y1="129.42" x2="377.10" y2="148.52" stroke-width="0.85"/><line x1="375.50" y1="129.42" x2="378.70" y2="129.42" stroke-width="0.8"/><line x1="375.50" y1="148.52" x2="378.70" y2="148.52" stroke-width="0.8"/></g>
<g stroke="#3db462" opacity="0.8"><line x1="384.25" y1="112.83" x2="384.25" y2="143.13" stroke-width="0.85"/><line x1="382.65" y1="112.83" x2="385.85" y2="112.83" stroke-width="0.8"/><line x1="382.65" y1="143.13" x2="385.85" y2="143.13" stroke-width="0.8"/></g>
<g stroke="#3db462" opacity="0.8"><line x1="391.40" y1="127.61" x2="391.40" y2="153.68" stroke-width="0.85"/><line x1="389.80" y1="127.61" x2="393.00" y2="127.61" stroke-width="0.8"/><line x1="389.80" y1="153.68" x2="393.00" y2="153.68" stroke-width="0.8"/></g>
<g stroke="#3db462" opacity="0.8"><line x1="398.55" y1="137.38" x2="398.55" y2="171.99" stroke-width="0.85"/><line x1="396.95" y1="137.38" x2="400.15" y2="137.38" stroke-width="0.8"/><line x1="396.95" y1="171.99" x2="400.15" y2="171.99" stroke-width="0.8"/></g>
<g stroke="#c63ad6" opacity="0.8"><line x1="249.20" y1="48.59" x2="249.20" y2="104.39" stroke-width="0.85"/><line x1="247.60" y1="48.59" x2="250.80" y2="48.59" stroke-width="0.8"/><line x1="247.60" y1="104.39" x2="250.80" y2="104.39" stroke-width="0.8"/></g>
<g stroke="#c63ad6" opacity="0.8"><line x1="256.35" y1="46.42" x2="256.35" y2="94.40" stroke-width="0.85"/><line x1="254.75" y1="46.42" x2="257.95" y2="46.42" stroke-width="0.8"/><line x1="254.75" y1="94.40" x2="257.95" y2="94.40" stroke-width="0.8"/></g>
<g stroke="#c63ad6" opacity="0.8"><line x1="263.50" y1="59.31" x2="263.50" y2="96.82" stroke-width="0.85"/><line x1="261.90" y1="59.31" x2="265.10" y2="59.31" stroke-width="0.8"/><line x1="261.90" y1="96.82" x2="265.10" y2="96.82" stroke-width="0.8"/></g>
<g stroke="#c63ad6" opacity="0.8"><line x1="270.65" y1="77.71" x2="270.65" y2="103.78" stroke-width="0.85"/><line x1="269.05" y1="77.71" x2="272.25" y2="77.71" stroke-width="0.8"/><line x1="269.05" y1="103.78" x2="272.25" y2="103.78" stroke-width="0.8"/></g>
<g stroke="#c63ad6" opacity="0.8"><line x1="277.80" y1="94.21" x2="277.80" y2="120.28" stroke-width="0.85"/><line x1="276.20" y1="94.21" x2="279.40" y2="94.21" stroke-width="0.8"/><line x1="276.20" y1="120.28" x2="279.40" y2="120.28" stroke-width="0.8"/></g>
<g stroke="#c63ad6" opacity="0.8"><line x1="284.95" y1="105.12" x2="284.95" y2="124.22" stroke-width="0.85"/><line x1="283.35" y1="105.12" x2="286.55" y2="105.12" stroke-width="0.8"/><line x1="283.35" y1="124.22" x2="286.55" y2="124.22" stroke-width="0.8"/></g>
<g stroke="#c63ad6" opacity="0.8"><line x1="292.10" y1="118.32" x2="292.10" y2="134.66" stroke-width="0.85"/><line x1="290.50" y1="118.32" x2="293.70" y2="118.32" stroke-width="0.8"/><line x1="290.50" y1="134.66" x2="293.70" y2="134.66" stroke-width="0.8"/></g>
<g stroke="#c63ad6" opacity="0.8"><line x1="299.25" y1="121.72" x2="299.25" y2="139.43" stroke-width="0.85"/><line x1="297.65" y1="121.72" x2="300.85" y2="121.72" stroke-width="0.8"/><line x1="297.65" y1="139.43" x2="300.85" y2="139.43" stroke-width="0.8"/></g>
<g stroke="#c63ad6" opacity="0.8"><line x1="306.40" y1="129.29" x2="306.40" y2="153.95" stroke-width="0.85"/><line x1="304.80" y1="129.29" x2="308.00" y2="129.29" stroke-width="0.8"/><line x1="304.80" y1="153.95" x2="308.00" y2="153.95" stroke-width="0.8"/></g>
<g stroke="#c63ad6" opacity="0.8"><line x1="313.55" y1="131.43" x2="313.55" y2="164.59" stroke-width="0.85"/><line x1="311.95" y1="131.43" x2="315.15" y2="131.43" stroke-width="0.8"/><line x1="311.95" y1="164.59" x2="315.15" y2="164.59" stroke-width="0.8"/></g>
<g stroke="#c63ad6" opacity="0.8"><line x1="320.70" y1="137.38" x2="320.70" y2="171.99" stroke-width="0.85"/><line x1="319.10" y1="137.38" x2="322.30" y2="137.38" stroke-width="0.8"/><line x1="319.10" y1="171.99" x2="322.30" y2="171.99" stroke-width="0.8"/></g>
<g stroke="#c63ad6" opacity="0.8"><line x1="327.85" y1="137.98" x2="327.85" y2="176.96" stroke-width="0.85"/><line x1="326.25" y1="137.98" x2="329.45" y2="137.98" stroke-width="0.8"/><line x1="326.25" y1="176.96" x2="329.45" y2="176.96" stroke-width="0.8"/></g>
<g stroke="#c63ad6" opacity="0.8"><line x1="335.00" y1="141.24" x2="335.00" y2="177.30" stroke-width="0.85"/><line x1="333.40" y1="141.24" x2="336.60" y2="141.24" stroke-width="0.8"/><line x1="333.40" y1="177.30" x2="336.60" y2="177.30" stroke-width="0.8"/></g>
<g stroke="#c63ad6" opacity="0.8"><line x1="342.15" y1="144.62" x2="342.15" y2="186.56" stroke-width="0.85"/><line x1="340.55" y1="144.62" x2="343.75" y2="144.62" stroke-width="0.8"/><line x1="340.55" y1="186.56" x2="343.75" y2="186.56" stroke-width="0.8"/></g>
<g stroke="#c63ad6" opacity="0.8"><line x1="349.30" y1="150.19" x2="349.30" y2="195.13" stroke-width="0.85"/><line x1="347.70" y1="150.19" x2="350.90" y2="150.19" stroke-width="0.8"/><line x1="347.70" y1="195.13" x2="350.90" y2="195.13" stroke-width="0.8"/></g>
<g stroke="#c63ad6" opacity="0.8"><line x1="356.45" y1="156.69" x2="356.45" y2="201.63" stroke-width="0.85"/><line x1="354.85" y1="156.69" x2="358.05" y2="156.69" stroke-width="0.8"/><line x1="354.85" y1="201.63" x2="358.05" y2="201.63" stroke-width="0.8"/></g>
<g stroke="#c63ad6" opacity="0.8"><line x1="363.60" y1="157.64" x2="363.60" y2="193.70" stroke-width="0.85"/><line x1="362.00" y1="157.64" x2="365.20" y2="157.64" stroke-width="0.8"/><line x1="362.00" y1="193.70" x2="365.20" y2="193.70" stroke-width="0.8"/></g>
<g stroke="#c63ad6" opacity="0.8"><line x1="370.75" y1="146.79" x2="370.75" y2="171.45" stroke-width="0.85"/><line x1="369.15" y1="146.79" x2="372.35" y2="146.79" stroke-width="0.8"/><line x1="369.15" y1="171.45" x2="372.35" y2="171.45" stroke-width="0.8"/></g>
<g stroke="#c63ad6" opacity="0.8"><line x1="377.90" y1="138.12" x2="377.90" y2="157.22" stroke-width="0.85"/><line x1="376.30" y1="138.12" x2="379.50" y2="138.12" stroke-width="0.8"/><line x1="376.30" y1="157.22" x2="379.50" y2="157.22" stroke-width="0.8"/></g>
<g stroke="#c63ad6" opacity="0.8"><line x1="385.05" y1="123.73" x2="385.05" y2="154.03" stroke-width="0.85"/><line x1="383.45" y1="123.73" x2="386.65" y2="123.73" stroke-width="0.8"/><line x1="383.45" y1="154.03" x2="386.65" y2="154.03" stroke-width="0.8"/></g>
<g stroke="#c63ad6" opacity="0.8"><line x1="392.20" y1="132.01" x2="392.20" y2="158.08" stroke-width="0.85"/><line x1="390.60" y1="132.01" x2="393.80" y2="132.01" stroke-width="0.8"/><line x1="390.60" y1="158.08" x2="393.80" y2="158.08" stroke-width="0.8"/></g>
<g stroke="#c63ad6" opacity="0.8"><line x1="399.35" y1="143.98" x2="399.35" y2="178.59" stroke-width="0.85"/><line x1="397.75" y1="143.98" x2="400.95" y2="143.98" stroke-width="0.8"/><line x1="397.75" y1="178.59" x2="400.95" y2="178.59" stroke-width="0.8"/></g>
<g stroke="#f58f3c" opacity="0.8"><line x1="250.00" y1="48.59" x2="250.00" y2="104.39" stroke-width="0.85"/><line x1="248.40" y1="48.59" x2="251.60" y2="48.59" stroke-width="0.8"/><line x1="248.40" y1="104.39" x2="251.60" y2="104.39" stroke-width="0.8"/></g>
<g stroke="#f58f3c" opacity="0.8"><line x1="257.15" y1="46.42" x2="257.15" y2="94.40" stroke-width="0.85"/><line x1="255.55" y1="46.42" x2="258.75" y2="46.42" stroke-width="0.8"/><line x1="255.55" y1="94.40" x2="258.75" y2="94.40" stroke-width="0.8"/></g>
<g stroke="#f58f3c" opacity="0.8"><line x1="264.30" y1="58.51" x2="264.30" y2="96.02" stroke-width="0.85"/><line x1="262.70" y1="58.51" x2="265.90" y2="58.51" stroke-width="0.8"/><line x1="262.70" y1="96.02" x2="265.90" y2="96.02" stroke-width="0.8"/></g>
<g stroke="#f58f3c" opacity="0.8"><line x1="271.45" y1="76.71" x2="271.45" y2="102.78" stroke-width="0.85"/><line x1="269.85" y1="76.71" x2="273.05" y2="76.71" stroke-width="0.8"/><line x1="269.85" y1="102.78" x2="273.05" y2="102.78" stroke-width="0.8"/></g>
<g stroke="#f58f3c" opacity="0.8"><line x1="278.60" y1="92.71" x2="278.60" y2="118.78" stroke-width="0.85"/><line x1="277.00" y1="92.71" x2="280.20" y2="92.71" stroke-width="0.8"/><line x1="277.00" y1="118.78" x2="280.20" y2="118.78" stroke-width="0.8"/></g>
<g stroke="#f58f3c" opacity="0.8"><line x1="285.75" y1="103.12" x2="285.75" y2="122.22" stroke-width="0.85"/><line x1="284.15" y1="103.12" x2="287.35" y2="103.12" stroke-width="0.8"/><line x1="284.15" y1="122.22" x2="287.35" y2="122.22" stroke-width="0.8"/></g>
<g stroke="#f58f3c" opacity="0.8"><line x1="292.90" y1="114.82" x2="292.90" y2="131.16" stroke-width="0.85"/><line x1="291.30" y1="114.82" x2="294.50" y2="114.82" stroke-width="0.8"/><line x1="291.30" y1="131.16" x2="294.50" y2="131.16" stroke-width="0.8"/></g>
<g stroke="#f58f3c" opacity="0.8"><line x1="300.05" y1="118.72" x2="300.05" y2="136.43" stroke-width="0.85"/><line x1="298.45" y1="118.72" x2="301.65" y2="118.72" stroke-width="0.8"/><line x1="298.45" y1="136.43" x2="301.65" y2="136.43" stroke-width="0.8"/></g>
<g stroke="#f58f3c" opacity="0.8"><line x1="307.20" y1="128.19" x2="307.20" y2="152.85" stroke-width="0.85"/><line x1="305.60" y1="128.19" x2="308.80" y2="128.19" stroke-width="0.8"/><line x1="305.60" y1="152.85" x2="308.80" y2="152.85" stroke-width="0.8"/></g>
<g stroke="#f58f3c" opacity="0.8"><line x1="314.35" y1="128.13" x2="314.35" y2="161.29" stroke-width="0.85"/><line x1="312.75" y1="128.13" x2="315.95" y2="128.13" stroke-width="0.8"/><line x1="312.75" y1="161.29" x2="315.95" y2="161.29" stroke-width="0.8"/></g>
<g stroke="#f58f3c" opacity="0.8"><line x1="321.50" y1="130.88" x2="321.50" y2="165.49" stroke-width="0.85"/><line x1="319.90" y1="130.88" x2="323.10" y2="130.88" stroke-width="0.8"/><line x1="319.90" y1="165.49" x2="323.10" y2="165.49" stroke-width="0.8"/></g>
<g stroke="#f58f3c" opacity="0.8"><line x1="328.65" y1="130.28" x2="328.65" y2="169.26" stroke-width="0.85"/><line x1="327.05" y1="130.28" x2="330.25" y2="130.28" stroke-width="0.8"/><line x1="327.05" y1="169.26" x2="330.25" y2="169.26" stroke-width="0.8"/></g>
<g stroke="#f58f3c" opacity="0.8"><line x1="335.80" y1="133.54" x2="335.80" y2="169.60" stroke-width="0.85"/><line x1="334.20" y1="133.54" x2="337.40" y2="133.54" stroke-width="0.8"/><line x1="334.20" y1="169.60" x2="337.40" y2="169.60" stroke-width="0.8"/></g>
<g stroke="#f58f3c" opacity="0.8"><line x1="342.95" y1="138.02" x2="342.95" y2="179.96" stroke-width="0.85"/><line x1="341.35" y1="138.02" x2="344.55" y2="138.02" stroke-width="0.8"/><line x1="341.35" y1="179.96" x2="344.55" y2="179.96" stroke-width="0.8"/></g>
<g stroke="#f58f3c" opacity="0.8"><line x1="350.10" y1="145.19" x2="350.10" y2="190.13" stroke-width="0.85"/><line x1="348.50" y1="145.19" x2="351.70" y2="145.19" stroke-width="0.8"/><line x1="348.50" y1="190.13" x2="351.70" y2="190.13" stroke-width="0.8"/></g>
<g stroke="#f58f3c" opacity="0.8"><line x1="357.25" y1="152.29" x2="357.25" y2="197.23" stroke-width="0.85"/><line x1="355.65" y1="152.29" x2="358.85" y2="152.29" stroke-width="0.8"/><line x1="355.65" y1="197.23" x2="358.85" y2="197.23" stroke-width="0.8"/></g>
<g stroke="#f58f3c" opacity="0.8"><line x1="364.40" y1="152.14" x2="364.40" y2="188.20" stroke-width="0.85"/><line x1="362.80" y1="152.14" x2="366.00" y2="152.14" stroke-width="0.8"/><line x1="362.80" y1="188.20" x2="366.00" y2="188.20" stroke-width="0.8"/></g>
<g stroke="#f58f3c" opacity="0.8"><line x1="371.55" y1="142.39" x2="371.55" y2="167.05" stroke-width="0.85"/><line x1="369.95" y1="142.39" x2="373.15" y2="142.39" stroke-width="0.8"/><line x1="369.95" y1="167.05" x2="373.15" y2="167.05" stroke-width="0.8"/></g>
<g stroke="#f58f3c" opacity="0.8"><line x1="378.70" y1="132.12" x2="378.70" y2="151.22" stroke-width="0.85"/><line x1="377.10" y1="132.12" x2="380.30" y2="132.12" stroke-width="0.8"/><line x1="377.10" y1="151.22" x2="380.30" y2="151.22" stroke-width="0.8"/></g>
<g stroke="#f58f3c" opacity="0.8"><line x1="385.85" y1="115.03" x2="385.85" y2="145.33" stroke-width="0.85"/><line x1="384.25" y1="115.03" x2="387.45" y2="115.03" stroke-width="0.8"/><line x1="384.25" y1="145.33" x2="387.45" y2="145.33" stroke-width="0.8"/></g>
<g stroke="#f58f3c" opacity="0.8"><line x1="393.00" y1="128.71" x2="393.00" y2="154.78" stroke-width="0.85"/><line x1="391.40" y1="128.71" x2="394.60" y2="128.71" stroke-width="0.8"/><line x1="391.40" y1="154.78" x2="394.60" y2="154.78" stroke-width="0.8"/></g>
<g stroke="#f58f3c" opacity="0.8"><line x1="400.15" y1="137.88" x2="400.15" y2="172.49" stroke-width="0.85"/><line x1="398.55" y1="137.88" x2="401.75" y2="137.88" stroke-width="0.8"/><line x1="398.55" y1="172.49" x2="401.75" y2="172.49" stroke-width="0.8"/></g>
<polyline points="248.40,70.90 255.55,66.25 262.70,74.70 269.85,86.50 277.00,102.50 284.15,110.00 291.30,121.90 298.45,125.00 305.60,136.00 312.75,139.40 319.90,143.80 327.05,144.90 334.20,148.20 341.35,155.80 348.50,164.60 355.65,172.20 362.80,169.00 369.95,152.50 377.10,140.50 384.25,128.00 391.40,141.00 398.55,154.00" fill="none" stroke="#151515" stroke-width="1.8" stroke-linejoin="round"/>
<polyline points="248.40,71.70 255.55,67.05 262.70,75.50 269.85,88.60 277.00,104.55 284.15,109.55 291.30,121.60 298.45,123.80 305.60,134.70 312.75,138.00 319.90,141.30 327.05,142.40 334.20,144.60 341.35,153.30 348.50,162.10 355.65,170.80 362.80,165.40 369.95,150.00 377.10,139.10 384.25,127.10 391.40,140.20 398.55,153.30" fill="none" stroke="#3f6fd6" stroke-width="1.8" stroke-linejoin="round"/>
<polyline points="248.40,70.90 255.55,66.25 262.70,74.70 269.85,87.80 277.00,103.75 284.15,108.75 291.30,120.80 298.45,123.00 305.60,133.90 312.75,137.20 319.90,140.50 327.05,141.60 334.20,143.80 341.35,152.50 348.50,161.30 355.65,170.00 362.80,164.60 369.95,149.20 377.10,138.30 384.25,126.30 391.40,139.40 398.55,152.50" fill="none" stroke="#3db462" stroke-width="1.8" stroke-linejoin="round"/>
<polyline points="248.40,70.90 255.55,66.25 262.70,75.50 269.85,89.50 277.00,106.00 284.15,114.00 291.30,126.00 298.45,130.00 305.60,140.50 312.75,146.00 319.90,152.50 327.05,154.70 334.20,156.90 341.35,162.40 348.50,169.00 355.65,175.50 362.80,173.30 369.95,158.00 377.10,147.00 384.25,137.20 391.40,143.80 398.55,159.10" fill="none" stroke="#c63ad6" stroke-width="1.8" stroke-linejoin="round"/>
<polyline points="248.40,70.90 255.55,66.25 262.70,74.70 269.85,88.50 277.00,104.50 284.15,112.00 291.30,122.50 298.45,127.00 305.60,139.40 312.75,142.70 319.90,146.00 327.05,147.00 334.20,149.20 341.35,155.80 348.50,164.00 355.65,171.10 362.80,167.80 369.95,153.60 377.10,141.00 384.25,128.50 391.40,140.50 398.55,153.00" fill="none" stroke="#f58f3c" stroke-width="1.8" stroke-linejoin="round"/>
<text x="444.30" y="8.40" font-size="14.8" text-anchor="start" font-weight="bold" fill="#000">c</text>
<text x="562.00" y="33.00" font-size="11.35" text-anchor="middle" font-weight="bold" fill="#000">100 samples replayed between session</text>
<line x1="590.79" y1="37.00" x2="590.79" y2="193.80" stroke="#cdcdcd" stroke-width="0.8"/>
<line x1="626.69" y1="37.00" x2="626.69" y2="193.80" stroke="#cdcdcd" stroke-width="0.8"/>
<line x1="480.40" y1="37.00" x2="480.40" y2="193.80" stroke="#262626" stroke-width="1"/>
<line x1="480.40" y1="193.80" x2="644.80" y2="193.80" stroke="#262626" stroke-width="1"/>
<line x1="480.40" y1="50.66" x2="482.90" y2="50.66" stroke="#262626" stroke-width="0.8"/>
<text x="476.40" y="54.26" font-size="10" text-anchor="end" font-weight="normal" fill="#222">3</text>
<line x1="480.40" y1="76.55" x2="482.90" y2="76.55" stroke="#262626" stroke-width="0.8"/>
<text x="476.40" y="80.15" font-size="10" text-anchor="end" font-weight="normal" fill="#222">2</text>
<line x1="480.40" y1="120.80" x2="482.90" y2="120.80" stroke="#262626" stroke-width="0.8"/>
<text x="476.40" y="124.40" font-size="10" text-anchor="end" font-weight="normal" fill="#222">1</text>
<line x1="480.40" y1="165.05" x2="482.90" y2="165.05" stroke="#262626" stroke-width="0.8"/>
<text x="476.40" y="168.65" font-size="10" text-anchor="end" font-weight="normal" fill="#222">0.5</text>
<line x1="480.40" y1="179.30" x2="482.90" y2="179.30" stroke="#262626" stroke-width="0.8"/>
<text x="476.40" y="182.90" font-size="10" text-anchor="end" font-weight="normal" fill="#222">0.4</text>
<line x1="480.40" y1="153.41" x2="481.80" y2="153.41" stroke="#262626" stroke-width="0.6"/>
<line x1="480.40" y1="143.57" x2="481.80" y2="143.57" stroke="#262626" stroke-width="0.6"/>
<line x1="480.40" y1="135.05" x2="481.80" y2="135.05" stroke="#262626" stroke-width="0.6"/>
<line x1="480.40" y1="127.53" x2="481.80" y2="127.53" stroke="#262626" stroke-width="0.6"/>
<line x1="479.50" y1="193.80" x2="479.50" y2="191.30" stroke="#262626" stroke-width="0.8"/>
<text x="479.50" y="206.80" font-size="10" text-anchor="middle" font-weight="normal" fill="#222">0</text>
<line x1="515.40" y1="193.80" x2="515.40" y2="191.30" stroke="#262626" stroke-width="0.8"/>
<text x="515.40" y="206.80" font-size="10" text-anchor="middle" font-weight="normal" fill="#222">5</text>
<line x1="551.30" y1="193.80" x2="551.30" y2="191.30" stroke="#262626" stroke-width="0.8"/>
<text x="551.30" y="206.80" font-size="10" text-anchor="middle" font-weight="normal" fill="#222">10</text>
<line x1="587.20" y1="193.80" x2="587.20" y2="191.30" stroke="#262626" stroke-width="0.8"/>
<text x="587.20" y="206.80" font-size="10" text-anchor="middle" font-weight="normal" fill="#222">15</text>
<line x1="623.10" y1="193.80" x2="623.10" y2="191.30" stroke="#262626" stroke-width="0.8"/>
<text x="623.10" y="206.80" font-size="10" text-anchor="middle" font-weight="normal" fill="#222">20</text>
<text x="562.30" y="220.30" font-size="11.3" text-anchor="middle" font-weight="normal" fill="#111">Training session</text>
<text x="458.30" y="113.50" font-size="11.5" text-anchor="middle" font-weight="normal" fill="#111" transform="rotate(-90 458.3 113.5)">Normalised error score</text>
<text x="508.70" y="49.00" font-size="8.9" text-anchor="start" font-weight="normal" fill="#8a8a8a">Initial learning</text>
<text x="608.50" y="45.80" font-size="9" text-anchor="middle" font-weight="normal" fill="#8a8a8a">Reval-</text>
<text x="608.50" y="52.10" font-size="9" text-anchor="middle" font-weight="normal" fill="#8a8a8a">uation</text>
<text x="634.80" y="42.50" font-size="9" text-anchor="middle" font-weight="normal" fill="#8a8a8a">Re-</text>
<text x="634.80" y="49.00" font-size="9" text-anchor="middle" font-weight="normal" fill="#8a8a8a">ver-</text>
<text x="634.80" y="55.10" font-size="9" text-anchor="middle" font-weight="normal" fill="#8a8a8a">sal</text>
<g stroke="#151515" opacity="0.8"><line x1="485.08" y1="38.72" x2="485.08" y2="92.81" stroke-width="0.85"/><line x1="483.48" y1="38.72" x2="486.68" y2="38.72" stroke-width="0.8"/><line x1="483.48" y1="92.81" x2="486.68" y2="92.81" stroke-width="0.8"/></g>
<g stroke="#151515" opacity="0.8"><line x1="492.26" y1="37.79" x2="492.26" y2="81.57" stroke-width="0.85"/><line x1="490.66" y1="37.79" x2="493.86" y2="37.79" stroke-width="0.8"/><line x1="490.66" y1="81.57" x2="493.86" y2="81.57" stroke-width="0.8"/></g>
<g stroke="#151515" opacity="0.8"><line x1="499.44" y1="45.49" x2="499.44" y2="82.22" stroke-width="0.85"/><line x1="497.84" y1="45.49" x2="501.04" y2="45.49" stroke-width="0.8"/><line x1="497.84" y1="82.22" x2="501.04" y2="82.22" stroke-width="0.8"/></g>
<g stroke="#151515" opacity="0.8"><line x1="506.62" y1="57.45" x2="506.62" y2="90.07" stroke-width="0.85"/><line x1="505.02" y1="57.45" x2="508.22" y2="57.45" stroke-width="0.8"/><line x1="505.02" y1="90.07" x2="508.22" y2="90.07" stroke-width="0.8"/></g>
<g stroke="#151515" opacity="0.8"><line x1="513.80" y1="66.27" x2="513.80" y2="97.52" stroke-width="0.85"/><line x1="512.20" y1="66.27" x2="515.40" y2="66.27" stroke-width="0.8"/><line x1="512.20" y1="97.52" x2="515.40" y2="97.52" stroke-width="0.8"/></g>
<g stroke="#151515" opacity="0.8"><line x1="520.98" y1="77.75" x2="520.98" y2="110.37" stroke-width="0.85"/><line x1="519.38" y1="77.75" x2="522.58" y2="77.75" stroke-width="0.8"/><line x1="519.38" y1="110.37" x2="522.58" y2="110.37" stroke-width="0.8"/></g>
<g stroke="#151515" opacity="0.8"><line x1="528.16" y1="82.45" x2="528.16" y2="115.07" stroke-width="0.85"/><line x1="526.56" y1="82.45" x2="529.76" y2="82.45" stroke-width="0.8"/><line x1="526.56" y1="115.07" x2="529.76" y2="115.07" stroke-width="0.8"/></g>
<g stroke="#151515" opacity="0.8"><line x1="535.34" y1="93.85" x2="535.34" y2="126.47" stroke-width="0.85"/><line x1="533.74" y1="93.85" x2="536.94" y2="93.85" stroke-width="0.8"/><line x1="533.74" y1="126.47" x2="536.94" y2="126.47" stroke-width="0.8"/></g>
<g stroke="#151515" opacity="0.8"><line x1="542.52" y1="97.00" x2="542.52" y2="129.62" stroke-width="0.85"/><line x1="540.92" y1="97.00" x2="544.12" y2="97.00" stroke-width="0.8"/><line x1="540.92" y1="129.62" x2="544.12" y2="129.62" stroke-width="0.8"/></g>
<g stroke="#151515" opacity="0.8"><line x1="549.70" y1="108.75" x2="549.70" y2="141.37" stroke-width="0.85"/><line x1="548.10" y1="108.75" x2="551.30" y2="108.75" stroke-width="0.8"/><line x1="548.10" y1="141.37" x2="551.30" y2="141.37" stroke-width="0.8"/></g>
<g stroke="#151515" opacity="0.8"><line x1="556.88" y1="115.75" x2="556.88" y2="148.37" stroke-width="0.85"/><line x1="555.28" y1="115.75" x2="558.48" y2="115.75" stroke-width="0.8"/><line x1="555.28" y1="148.37" x2="558.48" y2="148.37" stroke-width="0.8"/></g>
<g stroke="#151515" opacity="0.8"><line x1="564.06" y1="116.15" x2="564.06" y2="148.77" stroke-width="0.85"/><line x1="562.46" y1="116.15" x2="565.66" y2="116.15" stroke-width="0.8"/><line x1="562.46" y1="148.77" x2="565.66" y2="148.77" stroke-width="0.8"/></g>
<g stroke="#151515" opacity="0.8"><line x1="571.24" y1="122.75" x2="571.24" y2="155.37" stroke-width="0.85"/><line x1="569.64" y1="122.75" x2="572.84" y2="122.75" stroke-width="0.8"/><line x1="569.64" y1="155.37" x2="572.84" y2="155.37" stroke-width="0.8"/></g>
<g stroke="#151515" opacity="0.8"><line x1="578.42" y1="129.85" x2="578.42" y2="163.82" stroke-width="0.85"/><line x1="576.82" y1="129.85" x2="580.02" y2="129.85" stroke-width="0.8"/><line x1="576.82" y1="163.82" x2="580.02" y2="163.82" stroke-width="0.8"/></g>
<g stroke="#151515" opacity="0.8"><line x1="585.60" y1="134.84" x2="585.60" y2="170.19" stroke-width="0.85"/><line x1="584.00" y1="134.84" x2="587.20" y2="134.84" stroke-width="0.8"/><line x1="584.00" y1="170.19" x2="587.20" y2="170.19" stroke-width="0.8"/></g>
<g stroke="#151515" opacity="0.8"><line x1="592.78" y1="137.64" x2="592.78" y2="174.37" stroke-width="0.85"/><line x1="591.18" y1="137.64" x2="594.38" y2="137.64" stroke-width="0.8"/><line x1="591.18" y1="174.37" x2="594.38" y2="174.37" stroke-width="0.8"/></g>
<g stroke="#151515" opacity="0.8"><line x1="599.96" y1="133.74" x2="599.96" y2="169.09" stroke-width="0.85"/><line x1="598.36" y1="133.74" x2="601.56" y2="133.74" stroke-width="0.8"/><line x1="598.36" y1="169.09" x2="601.56" y2="169.09" stroke-width="0.8"/></g>
<g stroke="#151515" opacity="0.8"><line x1="607.14" y1="127.15" x2="607.14" y2="159.77" stroke-width="0.85"/><line x1="605.54" y1="127.15" x2="608.74" y2="127.15" stroke-width="0.8"/><line x1="605.54" y1="159.77" x2="608.74" y2="159.77" stroke-width="0.8"/></g>
<g stroke="#151515" opacity="0.8"><line x1="614.32" y1="115.57" x2="614.32" y2="146.82" stroke-width="0.85"/><line x1="612.72" y1="115.57" x2="615.92" y2="115.57" stroke-width="0.8"/><line x1="612.72" y1="146.82" x2="615.92" y2="146.82" stroke-width="0.8"/></g>
<g stroke="#151515" opacity="0.8"><line x1="621.50" y1="99.21" x2="621.50" y2="127.76" stroke-width="0.85"/><line x1="619.90" y1="99.21" x2="623.10" y2="99.21" stroke-width="0.8"/><line x1="619.90" y1="127.76" x2="623.10" y2="127.76" stroke-width="0.8"/></g>
<g stroke="#151515" opacity="0.8"><line x1="628.68" y1="111.16" x2="628.68" y2="137.05" stroke-width="0.85"/><line x1="627.08" y1="111.16" x2="630.28" y2="111.16" stroke-width="0.8"/><line x1="627.08" y1="137.05" x2="630.28" y2="137.05" stroke-width="0.8"/></g>
<g stroke="#151515" opacity="0.8"><line x1="635.86" y1="126.51" x2="635.86" y2="155.06" stroke-width="0.85"/><line x1="634.26" y1="126.51" x2="637.46" y2="126.51" stroke-width="0.8"/><line x1="634.26" y1="155.06" x2="637.46" y2="155.06" stroke-width="0.8"/></g>
<g stroke="#3f6fd6" opacity="0.8"><line x1="485.88" y1="38.72" x2="485.88" y2="92.81" stroke-width="0.85"/><line x1="484.28" y1="38.72" x2="487.48" y2="38.72" stroke-width="0.8"/><line x1="484.28" y1="92.81" x2="487.48" y2="92.81" stroke-width="0.8"/></g>
<g stroke="#3f6fd6" opacity="0.8"><line x1="493.06" y1="45.09" x2="493.06" y2="88.87" stroke-width="0.85"/><line x1="491.46" y1="45.09" x2="494.66" y2="45.09" stroke-width="0.8"/><line x1="491.46" y1="88.87" x2="494.66" y2="88.87" stroke-width="0.8"/></g>
<g stroke="#3f6fd6" opacity="0.8"><line x1="500.24" y1="62.24" x2="500.24" y2="98.97" stroke-width="0.85"/><line x1="498.64" y1="62.24" x2="501.84" y2="62.24" stroke-width="0.8"/><line x1="498.64" y1="98.97" x2="501.84" y2="98.97" stroke-width="0.8"/></g>
<g stroke="#3f6fd6" opacity="0.8"><line x1="507.42" y1="76.15" x2="507.42" y2="108.77" stroke-width="0.85"/><line x1="505.82" y1="76.15" x2="509.02" y2="76.15" stroke-width="0.8"/><line x1="505.82" y1="108.77" x2="509.02" y2="108.77" stroke-width="0.8"/></g>
<g stroke="#3f6fd6" opacity="0.8"><line x1="514.60" y1="82.97" x2="514.60" y2="114.22" stroke-width="0.85"/><line x1="513.00" y1="82.97" x2="516.20" y2="82.97" stroke-width="0.8"/><line x1="513.00" y1="114.22" x2="516.20" y2="114.22" stroke-width="0.8"/></g>
<g stroke="#3f6fd6" opacity="0.8"><line x1="521.78" y1="88.65" x2="521.78" y2="121.27" stroke-width="0.85"/><line x1="520.18" y1="88.65" x2="523.38" y2="88.65" stroke-width="0.8"/><line x1="520.18" y1="121.27" x2="523.38" y2="121.27" stroke-width="0.8"/></g>
<g stroke="#3f6fd6" opacity="0.8"><line x1="528.96" y1="96.55" x2="528.96" y2="129.17" stroke-width="0.85"/><line x1="527.36" y1="96.55" x2="530.56" y2="96.55" stroke-width="0.8"/><line x1="527.36" y1="129.17" x2="530.56" y2="129.17" stroke-width="0.8"/></g>
<g stroke="#3f6fd6" opacity="0.8"><line x1="536.14" y1="99.05" x2="536.14" y2="131.67" stroke-width="0.85"/><line x1="534.54" y1="99.05" x2="537.74" y2="99.05" stroke-width="0.8"/><line x1="534.54" y1="131.67" x2="537.74" y2="131.67" stroke-width="0.8"/></g>
<g stroke="#3f6fd6" opacity="0.8"><line x1="543.32" y1="104.05" x2="543.32" y2="136.67" stroke-width="0.85"/><line x1="541.72" y1="104.05" x2="544.92" y2="104.05" stroke-width="0.8"/><line x1="541.72" y1="136.67" x2="544.92" y2="136.67" stroke-width="0.8"/></g>
<g stroke="#3f6fd6" opacity="0.8"><line x1="550.50" y1="101.55" x2="550.50" y2="134.17" stroke-width="0.85"/><line x1="548.90" y1="101.55" x2="552.10" y2="101.55" stroke-width="0.8"/><line x1="548.90" y1="134.17" x2="552.10" y2="134.17" stroke-width="0.8"/></g>
<g stroke="#3f6fd6" opacity="0.8"><line x1="557.68" y1="104.95" x2="557.68" y2="137.57" stroke-width="0.85"/><line x1="556.08" y1="104.95" x2="559.28" y2="104.95" stroke-width="0.8"/><line x1="556.08" y1="137.57" x2="559.28" y2="137.57" stroke-width="0.8"/></g>
<g stroke="#3f6fd6" opacity="0.8"><line x1="564.86" y1="101.95" x2="564.86" y2="134.57" stroke-width="0.85"/><line x1="563.26" y1="101.95" x2="566.46" y2="101.95" stroke-width="0.8"/><line x1="563.26" y1="134.57" x2="566.46" y2="134.57" stroke-width="0.8"/></g>
<g stroke="#3f6fd6" opacity="0.8"><line x1="572.04" y1="103.75" x2="572.04" y2="136.37" stroke-width="0.85"/><line x1="570.44" y1="103.75" x2="573.64" y2="103.75" stroke-width="0.8"/><line x1="570.44" y1="136.37" x2="573.64" y2="136.37" stroke-width="0.8"/></g>
<g stroke="#3f6fd6" opacity="0.8"><line x1="579.22" y1="106.25" x2="579.22" y2="140.22" stroke-width="0.85"/><line x1="577.62" y1="106.25" x2="580.82" y2="106.25" stroke-width="0.8"/><line x1="577.62" y1="140.22" x2="580.82" y2="140.22" stroke-width="0.8"/></g>
<g stroke="#3f6fd6" opacity="0.8"><line x1="586.40" y1="109.74" x2="586.40" y2="145.09" stroke-width="0.85"/><line x1="584.80" y1="109.74" x2="588.00" y2="109.74" stroke-width="0.8"/><line x1="584.80" y1="145.09" x2="588.00" y2="145.09" stroke-width="0.8"/></g>
<g stroke="#3f6fd6" opacity="0.8"><line x1="593.58" y1="113.54" x2="593.58" y2="150.27" stroke-width="0.85"/><line x1="591.98" y1="113.54" x2="595.18" y2="113.54" stroke-width="0.8"/><line x1="591.98" y1="150.27" x2="595.18" y2="150.27" stroke-width="0.8"/></g>
<g stroke="#3f6fd6" opacity="0.8"><line x1="600.76" y1="110.84" x2="600.76" y2="146.19" stroke-width="0.85"/><line x1="599.16" y1="110.84" x2="602.36" y2="110.84" stroke-width="0.8"/><line x1="599.16" y1="146.19" x2="602.36" y2="146.19" stroke-width="0.8"/></g>
<g stroke="#3f6fd6" opacity="0.8"><line x1="607.94" y1="109.65" x2="607.94" y2="142.27" stroke-width="0.85"/><line x1="606.34" y1="109.65" x2="609.54" y2="109.65" stroke-width="0.8"/><line x1="606.34" y1="142.27" x2="609.54" y2="142.27" stroke-width="0.8"/></g>
<g stroke="#3f6fd6" opacity="0.8"><line x1="615.12" y1="107.97" x2="615.12" y2="139.22" stroke-width="0.85"/><line x1="613.52" y1="107.97" x2="616.72" y2="107.97" stroke-width="0.8"/><line x1="613.52" y1="139.22" x2="616.72" y2="139.22" stroke-width="0.8"/></g>
<g stroke="#3f6fd6" opacity="0.8"><line x1="622.30" y1="100.31" x2="622.30" y2="128.86" stroke-width="0.85"/><line x1="620.70" y1="100.31" x2="623.90" y2="100.31" stroke-width="0.8"/><line x1="620.70" y1="128.86" x2="623.90" y2="128.86" stroke-width="0.8"/></g>
<g stroke="#3f6fd6" opacity="0.8"><line x1="629.48" y1="110.06" x2="629.48" y2="135.95" stroke-width="0.85"/><line x1="627.88" y1="110.06" x2="631.08" y2="110.06" stroke-width="0.8"/><line x1="627.88" y1="135.95" x2="631.08" y2="135.95" stroke-width="0.8"/></g>
<g stroke="#3f6fd6" opacity="0.8"><line x1="636.66" y1="112.31" x2="636.66" y2="140.86" stroke-width="0.85"/><line x1="635.06" y1="112.31" x2="638.26" y2="112.31" stroke-width="0.8"/><line x1="635.06" y1="140.86" x2="638.26" y2="140.86" stroke-width="0.8"/></g>
<g stroke="#3db462" opacity="0.8"><line x1="486.68" y1="38.72" x2="486.68" y2="92.81" stroke-width="0.85"/><line x1="485.08" y1="38.72" x2="488.28" y2="38.72" stroke-width="0.8"/><line x1="485.08" y1="92.81" x2="488.28" y2="92.81" stroke-width="0.8"/></g>
<g stroke="#3db462" opacity="0.8"><line x1="493.86" y1="45.09" x2="493.86" y2="88.87" stroke-width="0.85"/><line x1="492.26" y1="45.09" x2="495.46" y2="45.09" stroke-width="0.8"/><line x1="492.26" y1="88.87" x2="495.46" y2="88.87" stroke-width="0.8"/></g>
<g stroke="#3db462" opacity="0.8"><line x1="501.04" y1="63.24" x2="501.04" y2="99.97" stroke-width="0.85"/><line x1="499.44" y1="63.24" x2="502.64" y2="63.24" stroke-width="0.8"/><line x1="499.44" y1="99.97" x2="502.64" y2="99.97" stroke-width="0.8"/></g>
<g stroke="#3db462" opacity="0.8"><line x1="508.22" y1="77.25" x2="508.22" y2="109.87" stroke-width="0.85"/><line x1="506.62" y1="77.25" x2="509.82" y2="77.25" stroke-width="0.8"/><line x1="506.62" y1="109.87" x2="509.82" y2="109.87" stroke-width="0.8"/></g>
<g stroke="#3db462" opacity="0.8"><line x1="515.40" y1="83.77" x2="515.40" y2="115.02" stroke-width="0.85"/><line x1="513.80" y1="83.77" x2="517.00" y2="83.77" stroke-width="0.8"/><line x1="513.80" y1="115.02" x2="517.00" y2="115.02" stroke-width="0.8"/></g>
<g stroke="#3db462" opacity="0.8"><line x1="522.58" y1="89.95" x2="522.58" y2="122.57" stroke-width="0.85"/><line x1="520.98" y1="89.95" x2="524.18" y2="89.95" stroke-width="0.8"/><line x1="520.98" y1="122.57" x2="524.18" y2="122.57" stroke-width="0.8"/></g>
<g stroke="#3db462" opacity="0.8"><line x1="529.76" y1="91.75" x2="529.76" y2="124.37" stroke-width="0.85"/><line x1="528.16" y1="91.75" x2="531.36" y2="91.75" stroke-width="0.8"/><line x1="528.16" y1="124.37" x2="531.36" y2="124.37" stroke-width="0.8"/></g>
<g stroke="#3db462" opacity="0.8"><line x1="536.94" y1="95.75" x2="536.94" y2="128.37" stroke-width="0.85"/><line x1="535.34" y1="95.75" x2="538.54" y2="95.75" stroke-width="0.8"/><line x1="535.34" y1="128.37" x2="538.54" y2="128.37" stroke-width="0.8"/></g>
<g stroke="#3db462" opacity="0.8"><line x1="544.12" y1="98.25" x2="544.12" y2="130.87" stroke-width="0.85"/><line x1="542.52" y1="98.25" x2="545.72" y2="98.25" stroke-width="0.8"/><line x1="542.52" y1="130.87" x2="545.72" y2="130.87" stroke-width="0.8"/></g>
<g stroke="#3db462" opacity="0.8"><line x1="551.30" y1="99.05" x2="551.30" y2="131.67" stroke-width="0.85"/><line x1="549.70" y1="99.05" x2="552.90" y2="99.05" stroke-width="0.8"/><line x1="549.70" y1="131.67" x2="552.90" y2="131.67" stroke-width="0.8"/></g>
<g stroke="#3db462" opacity="0.8"><line x1="558.48" y1="100.75" x2="558.48" y2="133.37" stroke-width="0.85"/><line x1="556.88" y1="100.75" x2="560.08" y2="100.75" stroke-width="0.8"/><line x1="556.88" y1="133.37" x2="560.08" y2="133.37" stroke-width="0.8"/></g>
<g stroke="#3db462" opacity="0.8"><line x1="565.66" y1="101.95" x2="565.66" y2="134.57" stroke-width="0.85"/><line x1="564.06" y1="101.95" x2="567.26" y2="101.95" stroke-width="0.8"/><line x1="564.06" y1="134.57" x2="567.26" y2="134.57" stroke-width="0.8"/></g>
<g stroke="#3db462" opacity="0.8"><line x1="572.84" y1="103.05" x2="572.84" y2="135.67" stroke-width="0.85"/><line x1="571.24" y1="103.05" x2="574.44" y2="103.05" stroke-width="0.8"/><line x1="571.24" y1="135.67" x2="574.44" y2="135.67" stroke-width="0.8"/></g>
<g stroke="#3db462" opacity="0.8"><line x1="580.02" y1="105.85" x2="580.02" y2="139.82" stroke-width="0.85"/><line x1="578.42" y1="105.85" x2="581.62" y2="105.85" stroke-width="0.8"/><line x1="578.42" y1="139.82" x2="581.62" y2="139.82" stroke-width="0.8"/></g>
<g stroke="#3db462" opacity="0.8"><line x1="587.20" y1="110.84" x2="587.20" y2="146.19" stroke-width="0.85"/><line x1="585.60" y1="110.84" x2="588.80" y2="110.84" stroke-width="0.8"/><line x1="585.60" y1="146.19" x2="588.80" y2="146.19" stroke-width="0.8"/></g>
<g stroke="#3db462" opacity="0.8"><line x1="594.38" y1="115.74" x2="594.38" y2="152.47" stroke-width="0.85"/><line x1="592.78" y1="115.74" x2="595.98" y2="115.74" stroke-width="0.8"/><line x1="592.78" y1="152.47" x2="595.98" y2="152.47" stroke-width="0.8"/></g>
<g stroke="#3db462" opacity="0.8"><line x1="601.56" y1="111.94" x2="601.56" y2="147.29" stroke-width="0.85"/><line x1="599.96" y1="111.94" x2="603.16" y2="111.94" stroke-width="0.8"/><line x1="599.96" y1="147.29" x2="603.16" y2="147.29" stroke-width="0.8"/></g>
<g stroke="#3db462" opacity="0.8"><line x1="608.74" y1="109.65" x2="608.74" y2="142.27" stroke-width="0.85"/><line x1="607.14" y1="109.65" x2="610.34" y2="109.65" stroke-width="0.8"/><line x1="607.14" y1="142.27" x2="610.34" y2="142.27" stroke-width="0.8"/></g>
<g stroke="#3db462" opacity="0.8"><line x1="615.92" y1="106.87" x2="615.92" y2="138.12" stroke-width="0.85"/><line x1="614.32" y1="106.87" x2="617.52" y2="106.87" stroke-width="0.8"/><line x1="614.32" y1="138.12" x2="617.52" y2="138.12" stroke-width="0.8"/></g>
<g stroke="#3db462" opacity="0.8"><line x1="623.10" y1="101.31" x2="623.10" y2="129.86" stroke-width="0.85"/><line x1="621.50" y1="101.31" x2="624.70" y2="101.31" stroke-width="0.8"/><line x1="621.50" y1="129.86" x2="624.70" y2="129.86" stroke-width="0.8"/></g>
<g stroke="#3db462" opacity="0.8"><line x1="630.28" y1="108.96" x2="630.28" y2="134.85" stroke-width="0.85"/><line x1="628.68" y1="108.96" x2="631.88" y2="108.96" stroke-width="0.8"/><line x1="628.68" y1="134.85" x2="631.88" y2="134.85" stroke-width="0.8"/></g>
<g stroke="#3db462" opacity="0.8"><line x1="637.46" y1="110.11" x2="637.46" y2="138.66" stroke-width="0.85"/><line x1="635.86" y1="110.11" x2="639.06" y2="110.11" stroke-width="0.8"/><line x1="635.86" y1="138.66" x2="639.06" y2="138.66" stroke-width="0.8"/></g>
<g stroke="#c63ad6" opacity="0.8"><line x1="487.48" y1="38.72" x2="487.48" y2="92.81" stroke-width="0.85"/><line x1="485.88" y1="38.72" x2="489.08" y2="38.72" stroke-width="0.8"/><line x1="485.88" y1="92.81" x2="489.08" y2="92.81" stroke-width="0.8"/></g>
<g stroke="#c63ad6" opacity="0.8"><line x1="494.66" y1="45.09" x2="494.66" y2="88.87" stroke-width="0.85"/><line x1="493.06" y1="45.09" x2="496.26" y2="45.09" stroke-width="0.8"/><line x1="493.06" y1="88.87" x2="496.26" y2="88.87" stroke-width="0.8"/></g>
<g stroke="#c63ad6" opacity="0.8"><line x1="501.84" y1="61.24" x2="501.84" y2="97.97" stroke-width="0.85"/><line x1="500.24" y1="61.24" x2="503.44" y2="61.24" stroke-width="0.8"/><line x1="500.24" y1="97.97" x2="503.44" y2="97.97" stroke-width="0.8"/></g>
<g stroke="#c63ad6" opacity="0.8"><line x1="509.02" y1="76.15" x2="509.02" y2="108.77" stroke-width="0.85"/><line x1="507.42" y1="76.15" x2="510.62" y2="76.15" stroke-width="0.8"/><line x1="507.42" y1="108.77" x2="510.62" y2="108.77" stroke-width="0.8"/></g>
<g stroke="#c63ad6" opacity="0.8"><line x1="516.20" y1="88.17" x2="516.20" y2="119.42" stroke-width="0.85"/><line x1="514.60" y1="88.17" x2="517.80" y2="88.17" stroke-width="0.8"/><line x1="514.60" y1="119.42" x2="517.80" y2="119.42" stroke-width="0.8"/></g>
<g stroke="#c63ad6" opacity="0.8"><line x1="523.38" y1="119.45" x2="523.38" y2="152.07" stroke-width="0.85"/><line x1="521.78" y1="119.45" x2="524.98" y2="119.45" stroke-width="0.8"/><line x1="521.78" y1="152.07" x2="524.98" y2="152.07" stroke-width="0.8"/></g>
<g stroke="#c63ad6" opacity="0.8"><line x1="530.56" y1="121.65" x2="530.56" y2="154.27" stroke-width="0.85"/><line x1="528.96" y1="121.65" x2="532.16" y2="121.65" stroke-width="0.8"/><line x1="528.96" y1="154.27" x2="532.16" y2="154.27" stroke-width="0.8"/></g>
<g stroke="#c63ad6" opacity="0.8"><line x1="537.74" y1="123.85" x2="537.74" y2="156.47" stroke-width="0.85"/><line x1="536.14" y1="123.85" x2="539.34" y2="123.85" stroke-width="0.8"/><line x1="536.14" y1="156.47" x2="539.34" y2="156.47" stroke-width="0.8"/></g>
<g stroke="#c63ad6" opacity="0.8"><line x1="544.92" y1="134.75" x2="544.92" y2="167.37" stroke-width="0.85"/><line x1="543.32" y1="134.75" x2="546.52" y2="134.75" stroke-width="0.8"/><line x1="543.32" y1="167.37" x2="546.52" y2="167.37" stroke-width="0.8"/></g>
<g stroke="#c63ad6" opacity="0.8"><line x1="552.10" y1="138.05" x2="552.10" y2="170.67" stroke-width="0.85"/><line x1="550.50" y1="138.05" x2="553.70" y2="138.05" stroke-width="0.8"/><line x1="550.50" y1="170.67" x2="553.70" y2="170.67" stroke-width="0.8"/></g>
<g stroke="#c63ad6" opacity="0.8"><line x1="559.28" y1="143.55" x2="559.28" y2="176.17" stroke-width="0.85"/><line x1="557.68" y1="143.55" x2="560.88" y2="143.55" stroke-width="0.8"/><line x1="557.68" y1="176.17" x2="560.88" y2="176.17" stroke-width="0.8"/></g>
<g stroke="#c63ad6" opacity="0.8"><line x1="566.46" y1="151.15" x2="566.46" y2="183.77" stroke-width="0.85"/><line x1="564.86" y1="151.15" x2="568.06" y2="151.15" stroke-width="0.8"/><line x1="564.86" y1="183.77" x2="568.06" y2="183.77" stroke-width="0.8"/></g>
<g stroke="#c63ad6" opacity="0.8"><line x1="573.64" y1="148.95" x2="573.64" y2="181.57" stroke-width="0.85"/><line x1="572.04" y1="148.95" x2="575.24" y2="148.95" stroke-width="0.8"/><line x1="572.04" y1="181.57" x2="575.24" y2="181.57" stroke-width="0.8"/></g>
<g stroke="#c63ad6" opacity="0.8"><line x1="580.82" y1="151.75" x2="580.82" y2="185.72" stroke-width="0.85"/><line x1="579.22" y1="151.75" x2="582.42" y2="151.75" stroke-width="0.8"/><line x1="579.22" y1="185.72" x2="582.42" y2="185.72" stroke-width="0.8"/></g>
<g stroke="#c63ad6" opacity="0.8"><line x1="588.00" y1="155.64" x2="588.00" y2="190.99" stroke-width="0.85"/><line x1="586.40" y1="155.64" x2="589.60" y2="155.64" stroke-width="0.8"/><line x1="586.40" y1="190.99" x2="589.60" y2="190.99" stroke-width="0.8"/></g>
<g stroke="#c63ad6" opacity="0.8"><line x1="595.18" y1="154.04" x2="595.18" y2="190.77" stroke-width="0.85"/><line x1="593.58" y1="154.04" x2="596.78" y2="154.04" stroke-width="0.8"/><line x1="593.58" y1="190.77" x2="596.78" y2="190.77" stroke-width="0.8"/></g>
<g stroke="#c63ad6" opacity="0.8"><line x1="602.36" y1="152.34" x2="602.36" y2="187.69" stroke-width="0.85"/><line x1="600.76" y1="152.34" x2="603.96" y2="152.34" stroke-width="0.8"/><line x1="600.76" y1="187.69" x2="603.96" y2="187.69" stroke-width="0.8"/></g>
<g stroke="#c63ad6" opacity="0.8"><line x1="609.54" y1="151.15" x2="609.54" y2="183.77" stroke-width="0.85"/><line x1="607.94" y1="151.15" x2="611.14" y2="151.15" stroke-width="0.8"/><line x1="607.94" y1="183.77" x2="611.14" y2="183.77" stroke-width="0.8"/></g>
<g stroke="#c63ad6" opacity="0.8"><line x1="616.72" y1="141.87" x2="616.72" y2="173.12" stroke-width="0.85"/><line x1="615.12" y1="141.87" x2="618.32" y2="141.87" stroke-width="0.8"/><line x1="615.12" y1="173.12" x2="618.32" y2="173.12" stroke-width="0.8"/></g>
<g stroke="#c63ad6" opacity="0.8"><line x1="623.90" y1="140.71" x2="623.90" y2="169.26" stroke-width="0.85"/><line x1="622.30" y1="140.71" x2="625.50" y2="140.71" stroke-width="0.8"/><line x1="622.30" y1="169.26" x2="625.50" y2="169.26" stroke-width="0.8"/></g>
<g stroke="#c63ad6" opacity="0.8"><line x1="631.08" y1="137.36" x2="631.08" y2="163.25" stroke-width="0.85"/><line x1="629.48" y1="137.36" x2="632.68" y2="137.36" stroke-width="0.8"/><line x1="629.48" y1="163.25" x2="632.68" y2="163.25" stroke-width="0.8"/></g>
<g stroke="#c63ad6" opacity="0.8"><line x1="638.26" y1="142.91" x2="638.26" y2="171.46" stroke-width="0.85"/><line x1="636.66" y1="142.91" x2="639.86" y2="142.91" stroke-width="0.8"/><line x1="636.66" y1="171.46" x2="639.86" y2="171.46" stroke-width="0.8"/></g>
<g stroke="#f58f3c" opacity="0.8"><line x1="488.28" y1="38.72" x2="488.28" y2="92.81" stroke-width="0.85"/><line x1="486.68" y1="38.72" x2="489.88" y2="38.72" stroke-width="0.8"/><line x1="486.68" y1="92.81" x2="489.88" y2="92.81" stroke-width="0.8"/></g>
<g stroke="#f58f3c" opacity="0.8"><line x1="495.46" y1="45.09" x2="495.46" y2="88.87" stroke-width="0.85"/><line x1="493.86" y1="45.09" x2="497.06" y2="45.09" stroke-width="0.8"/><line x1="493.86" y1="88.87" x2="497.06" y2="88.87" stroke-width="0.8"/></g>
<g stroke="#f58f3c" opacity="0.8"><line x1="502.64" y1="62.24" x2="502.64" y2="98.97" stroke-width="0.85"/><line x1="501.04" y1="62.24" x2="504.24" y2="62.24" stroke-width="0.8"/><line x1="501.04" y1="98.97" x2="504.24" y2="98.97" stroke-width="0.8"/></g>
<g stroke="#f58f3c" opacity="0.8"><line x1="509.82" y1="78.25" x2="509.82" y2="110.87" stroke-width="0.85"/><line x1="508.22" y1="78.25" x2="511.42" y2="78.25" stroke-width="0.8"/><line x1="508.22" y1="110.87" x2="511.42" y2="110.87" stroke-width="0.8"/></g>
<g stroke="#f58f3c" opacity="0.8"><line x1="517.00" y1="84.27" x2="517.00" y2="115.52" stroke-width="0.85"/><line x1="515.40" y1="84.27" x2="518.60" y2="84.27" stroke-width="0.8"/><line x1="515.40" y1="115.52" x2="518.60" y2="115.52" stroke-width="0.8"/></g>
<g stroke="#f58f3c" opacity="0.8"><line x1="524.18" y1="100.85" x2="524.18" y2="133.47" stroke-width="0.85"/><line x1="522.58" y1="100.85" x2="525.78" y2="100.85" stroke-width="0.8"/><line x1="522.58" y1="133.47" x2="525.78" y2="133.47" stroke-width="0.8"/></g>
<g stroke="#f58f3c" opacity="0.8"><line x1="531.36" y1="110.75" x2="531.36" y2="143.37" stroke-width="0.85"/><line x1="529.76" y1="110.75" x2="532.96" y2="110.75" stroke-width="0.8"/><line x1="529.76" y1="143.37" x2="532.96" y2="143.37" stroke-width="0.8"/></g>
<g stroke="#f58f3c" opacity="0.8"><line x1="538.54" y1="115.05" x2="538.54" y2="147.67" stroke-width="0.85"/><line x1="536.94" y1="115.05" x2="540.14" y2="115.05" stroke-width="0.8"/><line x1="536.94" y1="147.67" x2="540.14" y2="147.67" stroke-width="0.8"/></g>
<g stroke="#f58f3c" opacity="0.8"><line x1="545.72" y1="126.05" x2="545.72" y2="158.67" stroke-width="0.85"/><line x1="544.12" y1="126.05" x2="547.32" y2="126.05" stroke-width="0.8"/><line x1="544.12" y1="158.67" x2="547.32" y2="158.67" stroke-width="0.8"/></g>
<g stroke="#f58f3c" opacity="0.8"><line x1="552.90" y1="122.75" x2="552.90" y2="155.37" stroke-width="0.85"/><line x1="551.30" y1="122.75" x2="554.50" y2="122.75" stroke-width="0.8"/><line x1="551.30" y1="155.37" x2="554.50" y2="155.37" stroke-width="0.8"/></g>
<g stroke="#f58f3c" opacity="0.8"><line x1="560.08" y1="128.25" x2="560.08" y2="160.87" stroke-width="0.85"/><line x1="558.48" y1="128.25" x2="561.68" y2="128.25" stroke-width="0.8"/><line x1="558.48" y1="160.87" x2="561.68" y2="160.87" stroke-width="0.8"/></g>
<g stroke="#f58f3c" opacity="0.8"><line x1="567.26" y1="126.05" x2="567.26" y2="158.67" stroke-width="0.85"/><line x1="565.66" y1="126.05" x2="568.86" y2="126.05" stroke-width="0.8"/><line x1="565.66" y1="158.67" x2="568.86" y2="158.67" stroke-width="0.8"/></g>
<g stroke="#f58f3c" opacity="0.8"><line x1="574.44" y1="128.25" x2="574.44" y2="160.87" stroke-width="0.85"/><line x1="572.84" y1="128.25" x2="576.04" y2="128.25" stroke-width="0.8"/><line x1="572.84" y1="160.87" x2="576.04" y2="160.87" stroke-width="0.8"/></g>
<g stroke="#f58f3c" opacity="0.8"><line x1="581.62" y1="130.95" x2="581.62" y2="164.92" stroke-width="0.85"/><line x1="580.02" y1="130.95" x2="583.22" y2="130.95" stroke-width="0.8"/><line x1="580.02" y1="164.92" x2="583.22" y2="164.92" stroke-width="0.8"/></g>
<g stroke="#f58f3c" opacity="0.8"><line x1="588.80" y1="133.74" x2="588.80" y2="169.09" stroke-width="0.85"/><line x1="587.20" y1="133.74" x2="590.40" y2="133.74" stroke-width="0.8"/><line x1="587.20" y1="169.09" x2="590.40" y2="169.09" stroke-width="0.8"/></g>
<g stroke="#f58f3c" opacity="0.8"><line x1="595.98" y1="137.64" x2="595.98" y2="174.37" stroke-width="0.85"/><line x1="594.38" y1="137.64" x2="597.58" y2="137.64" stroke-width="0.8"/><line x1="594.38" y1="174.37" x2="597.58" y2="174.37" stroke-width="0.8"/></g>
<g stroke="#f58f3c" opacity="0.8"><line x1="603.16" y1="132.64" x2="603.16" y2="167.99" stroke-width="0.85"/><line x1="601.56" y1="132.64" x2="604.76" y2="132.64" stroke-width="0.8"/><line x1="601.56" y1="167.99" x2="604.76" y2="167.99" stroke-width="0.8"/></g>
<g stroke="#f58f3c" opacity="0.8"><line x1="610.34" y1="128.25" x2="610.34" y2="160.87" stroke-width="0.85"/><line x1="608.74" y1="128.25" x2="611.94" y2="128.25" stroke-width="0.8"/><line x1="608.74" y1="160.87" x2="611.94" y2="160.87" stroke-width="0.8"/></g>
<g stroke="#f58f3c" opacity="0.8"><line x1="617.52" y1="125.47" x2="617.52" y2="156.72" stroke-width="0.85"/><line x1="615.92" y1="125.47" x2="619.12" y2="125.47" stroke-width="0.8"/><line x1="615.92" y1="156.72" x2="619.12" y2="156.72" stroke-width="0.8"/></g>
<g stroke="#f58f3c" opacity="0.8"><line x1="624.70" y1="115.56" x2="624.70" y2="144.11" stroke-width="0.85"/><line x1="623.10" y1="115.56" x2="626.30" y2="115.56" stroke-width="0.8"/><line x1="623.10" y1="144.11" x2="626.30" y2="144.11" stroke-width="0.8"/></g>
<g stroke="#f58f3c" opacity="0.8"><line x1="631.88" y1="120.96" x2="631.88" y2="146.85" stroke-width="0.85"/><line x1="630.28" y1="120.96" x2="633.48" y2="120.96" stroke-width="0.8"/><line x1="630.28" y1="146.85" x2="633.48" y2="146.85" stroke-width="0.8"/></g>
<g stroke="#f58f3c" opacity="0.8"><line x1="639.06" y1="124.31" x2="639.06" y2="152.86" stroke-width="0.85"/><line x1="637.46" y1="124.31" x2="640.66" y2="124.31" stroke-width="0.8"/><line x1="637.46" y1="152.86" x2="640.66" y2="152.86" stroke-width="0.8"/></g>
<polyline points="486.68,60.20 493.86,56.00 501.04,61.25 508.22,71.70 515.40,80.00 522.58,92.00 529.76,96.70 536.94,108.10 544.12,111.25 551.30,123.00 558.48,130.00 565.66,130.40 572.84,137.00 580.02,144.60 587.20,150.10 594.38,153.40 601.56,149.00 608.74,141.40 615.92,129.30 623.10,111.90 630.28,122.80 637.46,139.20" fill="none" stroke="#151515" stroke-width="1.8" stroke-linejoin="round"/>
<polyline points="486.68,60.20 493.86,63.30 501.04,78.00 508.22,90.40 515.40,96.70 522.58,102.90 529.76,110.80 536.94,113.30 544.12,118.30 551.30,115.80 558.48,119.20 565.66,116.20 572.84,118.00 580.02,121.00 587.20,125.00 594.38,129.30 601.56,126.10 608.74,123.90 615.92,121.70 623.10,113.00 630.28,121.70 637.46,125.00" fill="none" stroke="#3f6fd6" stroke-width="1.8" stroke-linejoin="round"/>
<polyline points="486.68,60.20 493.86,63.30 501.04,79.00 508.22,91.50 515.40,97.50 522.58,104.20 529.76,106.00 536.94,110.00 544.12,112.50 551.30,113.30 558.48,115.00 565.66,116.20 572.84,117.30 580.02,120.60 587.20,126.10 594.38,131.50 601.56,127.20 608.74,123.90 615.92,120.60 623.10,114.00 630.28,120.60 637.46,122.80" fill="none" stroke="#3db462" stroke-width="1.8" stroke-linejoin="round"/>
<polyline points="486.68,60.20 493.86,63.30 501.04,77.00 508.22,90.40 515.40,101.90 522.58,133.70 529.76,135.90 536.94,138.10 544.12,149.00 551.30,152.30 558.48,157.80 565.66,165.40 572.84,163.20 580.02,166.50 587.20,170.90 594.38,169.80 601.56,167.60 608.74,165.40 615.92,155.60 623.10,153.40 630.28,149.00 637.46,155.60" fill="none" stroke="#c63ad6" stroke-width="1.8" stroke-linejoin="round"/>
<polyline points="486.68,60.20 493.86,63.30 501.04,78.00 508.22,92.50 515.40,98.00 522.58,115.10 529.76,125.00 536.94,129.30 544.12,140.30 551.30,137.00 558.48,142.50 565.66,140.30 572.84,142.50 580.02,145.70 587.20,149.00 594.38,153.40 601.56,147.90 608.74,142.50 615.92,139.20 623.10,128.25 630.28,132.60 637.46,137.00" fill="none" stroke="#f58f3c" stroke-width="1.8" stroke-linejoin="round"/>
<text x="8.90" y="256.10" font-size="17.5" text-anchor="start" font-weight="bold" fill="#000">d</text>
<line x1="197.76" y1="286.00" x2="197.76" y2="449.80" stroke="#cdcdcd" stroke-width="0.8"/>
<line x1="248.36" y1="286.00" x2="248.36" y2="449.80" stroke="#cdcdcd" stroke-width="0.8"/>
<line x1="46.25" y1="286.00" x2="46.25" y2="449.80" stroke="#262626" stroke-width="1.3"/>
<line x1="46.25" y1="449.80" x2="268.20" y2="449.80" stroke="#262626" stroke-width="1.3"/>
<line x1="46.25" y1="317.90" x2="48.75" y2="317.90" stroke="#262626" stroke-width="0.8"/>
<text x="42.25" y="321.72" font-size="10.6" text-anchor="end" font-weight="normal" fill="#222">2</text>
<line x1="46.25" y1="376.30" x2="48.75" y2="376.30" stroke="#262626" stroke-width="0.8"/>
<text x="42.25" y="380.12" font-size="10.6" text-anchor="end" font-weight="normal" fill="#222">1</text>
<line x1="46.25" y1="434.70" x2="48.75" y2="434.70" stroke="#262626" stroke-width="0.8"/>
<text x="42.25" y="438.52" font-size="10.6" text-anchor="end" font-weight="normal" fill="#222">0.5</text>
<line x1="46.25" y1="419.34" x2="47.65" y2="419.34" stroke="#262626" stroke-width="0.6"/>
<line x1="46.25" y1="406.35" x2="47.65" y2="406.35" stroke="#262626" stroke-width="0.6"/>
<line x1="46.25" y1="395.10" x2="47.65" y2="395.10" stroke="#262626" stroke-width="0.6"/>
<line x1="46.25" y1="385.18" x2="47.65" y2="385.18" stroke="#262626" stroke-width="0.6"/>
<line x1="46.25" y1="368.27" x2="47.65" y2="368.27" stroke="#262626" stroke-width="0.6"/>
<line x1="46.25" y1="360.94" x2="47.65" y2="360.94" stroke="#262626" stroke-width="0.6"/>
<line x1="46.25" y1="354.19" x2="47.65" y2="354.19" stroke="#262626" stroke-width="0.6"/>
<line x1="46.25" y1="347.95" x2="47.65" y2="347.95" stroke="#262626" stroke-width="0.6"/>
<line x1="46.25" y1="342.14" x2="47.65" y2="342.14" stroke="#262626" stroke-width="0.6"/>
<line x1="46.25" y1="336.70" x2="47.65" y2="336.70" stroke="#262626" stroke-width="0.6"/>
<line x1="46.25" y1="331.59" x2="47.65" y2="331.59" stroke="#262626" stroke-width="0.6"/>
<line x1="46.25" y1="326.78" x2="47.65" y2="326.78" stroke="#262626" stroke-width="0.6"/>
<line x1="46.25" y1="322.22" x2="47.65" y2="322.22" stroke="#262626" stroke-width="0.6"/>
<line x1="46.25" y1="313.79" x2="47.65" y2="313.79" stroke="#262626" stroke-width="0.6"/>
<line x1="46.25" y1="309.87" x2="47.65" y2="309.87" stroke="#262626" stroke-width="0.6"/>
<line x1="46.25" y1="306.12" x2="47.65" y2="306.12" stroke="#262626" stroke-width="0.6"/>
<line x1="46.25" y1="302.54" x2="47.65" y2="302.54" stroke="#262626" stroke-width="0.6"/>
<line x1="46.25" y1="299.10" x2="47.65" y2="299.10" stroke="#262626" stroke-width="0.6"/>
<line x1="46.25" y1="295.80" x2="47.65" y2="295.80" stroke="#262626" stroke-width="0.6"/>
<line x1="46.25" y1="292.62" x2="47.65" y2="292.62" stroke="#262626" stroke-width="0.6"/>
<line x1="46.25" y1="289.55" x2="47.65" y2="289.55" stroke="#262626" stroke-width="0.6"/>
<line x1="91.50" y1="449.80" x2="91.50" y2="447.30" stroke="#262626" stroke-width="0.8"/>
<text x="91.50" y="463.60" font-size="10.6" text-anchor="middle" font-weight="normal" fill="#222">5</text>
<line x1="142.10" y1="449.80" x2="142.10" y2="447.30" stroke="#262626" stroke-width="0.8"/>
<text x="142.10" y="463.60" font-size="10.6" text-anchor="middle" font-weight="normal" fill="#222">10</text>
<line x1="192.70" y1="449.80" x2="192.70" y2="447.30" stroke="#262626" stroke-width="0.8"/>
<text x="192.70" y="463.60" font-size="10.6" text-anchor="middle" font-weight="normal" fill="#222">15</text>
<line x1="243.30" y1="449.80" x2="243.30" y2="447.30" stroke="#262626" stroke-width="0.8"/>
<text x="243.30" y="463.60" font-size="10.6" text-anchor="middle" font-weight="normal" fill="#222">20</text>
<text x="158.50" y="477.50" font-size="11.6" text-anchor="middle" font-weight="normal" fill="#111">Training session</text>
<text x="22.80" y="366.50" font-size="11.6" text-anchor="middle" font-weight="normal" fill="#111" transform="rotate(-90 22.8 366.5)">Normalised error score</text>
<text x="92.60" y="298.50" font-size="9.3" text-anchor="start" font-weight="normal" fill="#8a8a8a">Initial learning</text>
<text x="198.50" y="298.50" font-size="9.3" text-anchor="start" font-weight="normal" fill="#8a8a8a">Revaluation</text>
<text x="258.30" y="294.60" font-size="9.3" text-anchor="middle" font-weight="normal" fill="#8a8a8a">Rev-</text>
<text x="258.30" y="302.10" font-size="9.3" text-anchor="middle" font-weight="normal" fill="#8a8a8a">ersal</text>
<polyline points="51.02,295.50 61.14,289.25 71.26,296.25 81.38,315.00 91.50,333.75 101.62,340.40 111.74,359.20 121.86,362.30 131.98,375.80 142.10,381.00 152.22,387.30 162.34,388.30 172.46,392.70 182.58,402.10 192.70,413.50 202.82,420.80 212.94,416.70 223.06,397.90 233.18,381.25 243.30,364.60 253.42,378.10 263.54,401.00" fill="none" stroke="#000000" stroke-width="1.55" stroke-linejoin="round"/>
<polyline points="51.02,295.50 61.14,290.19 71.26,298.50 81.38,316.50 91.50,334.50 101.62,343.34 111.74,361.20 121.86,364.30 131.98,378.05 142.10,383.13 152.22,389.61 162.34,390.86 172.46,395.01 182.58,404.04 192.70,415.19 202.82,422.11 212.94,418.13 223.06,400.28 233.18,383.88 243.30,367.97 253.42,380.35 263.54,402.44" fill="none" stroke="#050528" stroke-width="1.55" stroke-linejoin="round"/>
<polyline points="51.02,295.50 61.14,291.45 71.26,301.50 81.38,318.50 91.50,335.50 101.62,347.26 111.74,363.86 121.86,366.96 131.98,381.05 142.10,385.97 152.22,392.69 162.34,394.28 172.46,398.10 182.58,406.62 192.70,417.45 202.82,423.87 212.94,420.05 223.06,403.44 233.18,387.38 243.30,372.47 253.42,383.35 263.54,404.36" fill="none" stroke="#0b0b50" stroke-width="1.55" stroke-linejoin="round"/>
<polyline points="51.02,295.50 61.14,292.40 71.26,303.75 81.38,320.00 91.50,336.25 101.62,350.20 111.74,365.86 121.86,368.96 131.98,383.30 142.10,388.10 152.22,395.00 162.34,396.84 172.46,400.41 182.58,408.56 192.70,419.14 202.82,425.18 212.94,421.48 223.06,405.82 233.18,390.00 243.30,375.84 253.42,385.60 263.54,405.80" fill="none" stroke="#10107b" stroke-width="1.55" stroke-linejoin="round"/>
<polyline points="51.02,295.50 61.14,293.98 71.26,307.50 81.38,322.50 91.50,337.50 101.62,355.10 111.74,369.19 121.86,372.29 131.98,387.05 142.10,391.65 152.22,398.85 162.34,401.11 172.46,404.26 182.58,411.79 192.70,421.96 202.82,427.37 212.94,423.87 223.06,409.78 233.18,394.38 243.30,381.46 253.42,389.35 263.54,408.20" fill="none" stroke="#1414ae" stroke-width="1.55" stroke-linejoin="round"/>
<polyline points="51.02,295.50 61.14,295.87 71.26,312.00 81.38,325.50 91.50,339.00 101.62,360.98 111.74,373.19 121.86,376.29 131.98,391.55 142.10,395.91 152.22,403.47 162.34,406.23 172.46,408.89 182.58,415.67 192.70,425.34 202.82,430.00 212.94,426.74 223.06,414.53 233.18,399.62 243.30,388.20 253.42,393.85 263.54,411.08" fill="none" stroke="#1717e1" stroke-width="1.55" stroke-linejoin="round"/>
<polyline points="51.02,295.50 61.14,296.57 71.26,313.69 81.38,326.62 91.50,339.56 101.62,363.19 111.74,374.68 121.86,377.78 131.98,393.24 142.10,397.51 152.22,405.20 162.34,408.16 172.46,410.63 182.58,417.12 192.70,426.61 202.82,430.98 212.94,427.81 223.06,416.31 233.18,401.59 243.30,390.73 253.42,395.54 263.54,412.16" fill="none" stroke="#271cf6" stroke-width="1.55" stroke-linejoin="round"/>
<polyline points="51.02,295.50 61.14,297.12 71.26,315.00 81.38,327.50 91.50,340.00 101.62,364.90 111.74,375.85 121.86,378.95 131.98,394.55 142.10,398.75 152.22,406.55 162.34,409.65 172.46,411.98 182.58,418.25 192.70,427.60 202.82,431.75 212.94,428.65 223.06,417.70 233.18,403.12 243.30,392.70 253.42,396.85 263.54,413.00" fill="none" stroke="#4221ef" stroke-width="1.55" stroke-linejoin="round"/>
<polyline points="51.02,295.50 61.14,298.70 71.26,318.75 81.38,330.00 91.50,341.25 101.62,369.80 111.74,379.18 121.86,382.28 131.98,398.30 142.10,402.30 152.22,410.40 162.34,413.92 172.46,415.83 182.58,421.48 192.70,430.42 202.82,433.94 212.94,431.04 223.06,421.66 233.18,407.50 243.30,398.32 253.42,400.60 263.54,415.40" fill="none" stroke="#5d27e8" stroke-width="1.55" stroke-linejoin="round"/>
<polyline points="51.02,295.50 61.14,300.59 71.26,323.25 81.38,333.00 91.50,342.75 101.62,375.68 111.74,383.18 121.86,386.28 131.98,402.80 142.10,406.56 152.22,415.02 162.34,419.04 172.46,420.46 182.58,425.36 192.70,433.80 202.82,436.57 212.94,433.91 223.06,426.41 233.18,412.75 243.30,405.06 253.42,405.10 263.54,418.28" fill="none" stroke="#7f2bdf" stroke-width="1.55" stroke-linejoin="round"/>
<polyline points="51.02,295.50 61.14,303.27 71.26,329.62 81.38,337.25 91.50,344.88 101.62,384.01 111.74,388.84 121.86,391.94 131.98,409.18 142.10,412.60 152.22,421.56 162.34,426.30 172.46,427.01 182.58,430.85 192.70,438.60 202.82,440.29 212.94,437.97 223.06,433.14 233.18,420.19 243.30,414.62 253.42,411.48 263.54,422.36" fill="none" stroke="#a42ed6" stroke-width="1.55" stroke-linejoin="round"/>
<polyline points="51.02,295.50 61.14,305.00 71.26,333.75 81.38,340.00 91.50,346.25 101.62,389.40 111.74,392.50 121.86,395.60 131.98,413.30 142.10,416.50 152.22,425.80 162.34,431.00 172.46,431.25 182.58,434.40 192.70,441.70 202.82,442.70 212.94,440.60 223.06,437.50 233.18,425.00 243.30,420.80 253.42,415.60 263.54,425.00" fill="none" stroke="#c832cd" stroke-width="1.55" stroke-linejoin="round"/>
<defs><linearGradient id="gd" x1="0" y1="1" x2="0" y2="0"><stop offset="0" stop-color="#000000"/><stop offset="0.25" stop-color="#0f0f6e"/><stop offset="0.5" stop-color="#1919fa"/><stop offset="0.75" stop-color="#6428e6"/><stop offset="1" stop-color="#c832cd"/></linearGradient></defs>
<rect x="292.9" y="286" width="13.6" height="163.8" fill="url(#gd)"/>
<line x1="306.50" y1="286.90" x2="304.70" y2="286.90" stroke="#333" stroke-width="0.6"/>
<text x="310.10" y="290.30" font-size="9.6" text-anchor="start" font-weight="normal" fill="#222">100</text>
<line x1="306.50" y1="301.74" x2="304.70" y2="301.74" stroke="#333" stroke-width="0.6"/>
<text x="310.10" y="305.14" font-size="9.6" text-anchor="start" font-weight="normal" fill="#222">75</text>
<line x1="306.50" y1="316.58" x2="304.70" y2="316.58" stroke="#333" stroke-width="0.6"/>
<text x="310.10" y="319.98" font-size="9.6" text-anchor="start" font-weight="normal" fill="#222">50</text>
<line x1="306.50" y1="331.42" x2="304.70" y2="331.42" stroke="#333" stroke-width="0.6"/>
<text x="310.10" y="334.82" font-size="9.6" text-anchor="start" font-weight="normal" fill="#222">40</text>
<line x1="306.50" y1="346.26" x2="304.70" y2="346.26" stroke="#333" stroke-width="0.6"/>
<text x="310.10" y="349.66" font-size="9.6" text-anchor="start" font-weight="normal" fill="#222">30</text>
<line x1="306.50" y1="361.10" x2="304.70" y2="361.10" stroke="#333" stroke-width="0.6"/>
<text x="310.10" y="364.50" font-size="9.6" text-anchor="start" font-weight="normal" fill="#222">20</text>
<line x1="306.50" y1="375.94" x2="304.70" y2="375.94" stroke="#333" stroke-width="0.6"/>
<text x="310.10" y="379.34" font-size="9.6" text-anchor="start" font-weight="normal" fill="#222">15</text>
<line x1="306.50" y1="390.78" x2="304.70" y2="390.78" stroke="#333" stroke-width="0.6"/>
<text x="310.10" y="394.18" font-size="9.6" text-anchor="start" font-weight="normal" fill="#222">10</text>
<line x1="306.50" y1="405.62" x2="304.70" y2="405.62" stroke="#333" stroke-width="0.6"/>
<text x="310.10" y="409.02" font-size="9.6" text-anchor="start" font-weight="normal" fill="#222">5</text>
<line x1="306.50" y1="420.46" x2="304.70" y2="420.46" stroke="#333" stroke-width="0.6"/>
<text x="310.10" y="423.86" font-size="9.6" text-anchor="start" font-weight="normal" fill="#222">3</text>
<line x1="306.50" y1="435.30" x2="304.70" y2="435.30" stroke="#333" stroke-width="0.6"/>
<text x="310.10" y="438.70" font-size="9.6" text-anchor="start" font-weight="normal" fill="#222">1</text>
<line x1="306.50" y1="450.14" x2="304.70" y2="450.14" stroke="#333" stroke-width="0.6"/>
<text x="310.10" y="453.54" font-size="9.6" text-anchor="start" font-weight="normal" fill="#222">0</text>
<text x="299.90" y="280.60" font-size="9.5" text-anchor="middle" font-weight="normal" fill="#111"># replays</text>
<text x="389.40" y="256.10" font-size="17.5" text-anchor="start" font-weight="bold" fill="#000">e</text>
<line x1="557.06" y1="286.00" x2="557.06" y2="449.80" stroke="#cdcdcd" stroke-width="0.8"/>
<line x1="607.66" y1="286.00" x2="607.66" y2="449.80" stroke="#cdcdcd" stroke-width="0.8"/>
<line x1="405.55" y1="286.00" x2="405.55" y2="449.80" stroke="#262626" stroke-width="1.3"/>
<line x1="405.55" y1="449.80" x2="627.50" y2="449.80" stroke="#262626" stroke-width="1.3"/>
<line x1="405.55" y1="317.90" x2="408.05" y2="317.90" stroke="#262626" stroke-width="0.8"/>
<text x="401.55" y="321.72" font-size="10.6" text-anchor="end" font-weight="normal" fill="#222">2</text>
<line x1="405.55" y1="376.30" x2="408.05" y2="376.30" stroke="#262626" stroke-width="0.8"/>
<text x="401.55" y="380.12" font-size="10.6" text-anchor="end" font-weight="normal" fill="#222">1</text>
<line x1="405.55" y1="434.70" x2="408.05" y2="434.70" stroke="#262626" stroke-width="0.8"/>
<text x="401.55" y="438.52" font-size="10.6" text-anchor="end" font-weight="normal" fill="#222">0.5</text>
<line x1="405.55" y1="419.34" x2="406.95" y2="419.34" stroke="#262626" stroke-width="0.6"/>
<line x1="405.55" y1="406.35" x2="406.95" y2="406.35" stroke="#262626" stroke-width="0.6"/>
<line x1="405.55" y1="395.10" x2="406.95" y2="395.10" stroke="#262626" stroke-width="0.6"/>
<line x1="405.55" y1="385.18" x2="406.95" y2="385.18" stroke="#262626" stroke-width="0.6"/>
<line x1="405.55" y1="368.27" x2="406.95" y2="368.27" stroke="#262626" stroke-width="0.6"/>
<line x1="405.55" y1="360.94" x2="406.95" y2="360.94" stroke="#262626" stroke-width="0.6"/>
<line x1="405.55" y1="354.19" x2="406.95" y2="354.19" stroke="#262626" stroke-width="0.6"/>
<line x1="405.55" y1="347.95" x2="406.95" y2="347.95" stroke="#262626" stroke-width="0.6"/>
<line x1="405.55" y1="342.14" x2="406.95" y2="342.14" stroke="#262626" stroke-width="0.6"/>
<line x1="405.55" y1="336.70" x2="406.95" y2="336.70" stroke="#262626" stroke-width="0.6"/>
<line x1="405.55" y1="331.59" x2="406.95" y2="331.59" stroke="#262626" stroke-width="0.6"/>
<line x1="405.55" y1="326.78" x2="406.95" y2="326.78" stroke="#262626" stroke-width="0.6"/>
<line x1="405.55" y1="322.22" x2="406.95" y2="322.22" stroke="#262626" stroke-width="0.6"/>
<line x1="405.55" y1="313.79" x2="406.95" y2="313.79" stroke="#262626" stroke-width="0.6"/>
<line x1="405.55" y1="309.87" x2="406.95" y2="309.87" stroke="#262626" stroke-width="0.6"/>
<line x1="405.55" y1="306.12" x2="406.95" y2="306.12" stroke="#262626" stroke-width="0.6"/>
<line x1="405.55" y1="302.54" x2="406.95" y2="302.54" stroke="#262626" stroke-width="0.6"/>
<line x1="405.55" y1="299.10" x2="406.95" y2="299.10" stroke="#262626" stroke-width="0.6"/>
<line x1="405.55" y1="295.80" x2="406.95" y2="295.80" stroke="#262626" stroke-width="0.6"/>
<line x1="405.55" y1="292.62" x2="406.95" y2="292.62" stroke="#262626" stroke-width="0.6"/>
<line x1="405.55" y1="289.55" x2="406.95" y2="289.55" stroke="#262626" stroke-width="0.6"/>
<line x1="450.80" y1="449.80" x2="450.80" y2="447.30" stroke="#262626" stroke-width="0.8"/>
<text x="450.80" y="463.60" font-size="10.6" text-anchor="middle" font-weight="normal" fill="#222">5</text>
<line x1="501.40" y1="449.80" x2="501.40" y2="447.30" stroke="#262626" stroke-width="0.8"/>
<text x="501.40" y="463.60" font-size="10.6" text-anchor="middle" font-weight="normal" fill="#222">10</text>
<line x1="552.00" y1="449.80" x2="552.00" y2="447.30" stroke="#262626" stroke-width="0.8"/>
<text x="552.00" y="463.60" font-size="10.6" text-anchor="middle" font-weight="normal" fill="#222">15</text>
<line x1="602.60" y1="449.80" x2="602.60" y2="447.30" stroke="#262626" stroke-width="0.8"/>
<text x="602.60" y="463.60" font-size="10.6" text-anchor="middle" font-weight="normal" fill="#222">20</text>
<text x="517.80" y="477.50" font-size="11.6" text-anchor="middle" font-weight="normal" fill="#111">Training session</text>
<text x="382.10" y="366.50" font-size="11.6" text-anchor="middle" font-weight="normal" fill="#111" transform="rotate(-90 382.1 366.5)">Normalised error score</text>
<text x="451.90" y="298.50" font-size="9.3" text-anchor="start" font-weight="normal" fill="#8a8a8a">Initial learning</text>
<text x="557.80" y="298.50" font-size="9.3" text-anchor="start" font-weight="normal" fill="#8a8a8a">Revaluation</text>
<text x="617.60" y="294.60" font-size="9.3" text-anchor="middle" font-weight="normal" fill="#8a8a8a">Rev-</text>
<text x="617.60" y="302.10" font-size="9.3" text-anchor="middle" font-weight="normal" fill="#8a8a8a">ersal</text>
<polyline points="410.32,295.50 420.44,289.25 430.56,297.50 440.68,316.25 450.80,333.75 460.92,341.25 471.04,360.00 481.16,362.50 491.28,377.50 501.40,383.75 511.52,388.75 521.64,388.75 531.76,393.75 541.88,405.00 552.00,413.75 562.12,423.30 572.24,419.20 582.36,402.50 592.48,384.80 602.60,364.00 612.72,378.50 622.84,400.40" fill="none" stroke="#000000" stroke-width="1.5" stroke-linejoin="round"/>
<polyline points="410.32,295.50 420.44,289.33 430.56,297.70 440.68,316.49 450.80,334.01 460.92,341.56 471.04,360.22 481.16,362.75 491.28,377.74 501.40,383.88 511.52,388.90 521.64,388.88 531.76,393.88 541.88,405.04 552.00,413.75 562.12,423.27 572.24,419.15 582.36,402.53 592.48,384.93 602.60,364.20 612.72,378.61 622.84,400.47" fill="none" stroke="#490a0a" stroke-width="1.5" stroke-linejoin="round"/>
<polyline points="410.32,295.50 420.44,290.07 430.56,299.50 440.68,318.62 450.80,336.38 460.92,344.38 471.04,362.20 481.16,365.00 491.28,379.88 501.40,385.00 511.52,390.25 521.64,390.00 531.76,395.00 541.88,405.38 552.00,413.75 562.12,422.98 572.24,418.72 582.36,402.78 592.48,386.07 602.60,366.01 612.72,379.58 622.84,401.12" fill="none" stroke="#7e1010" stroke-width="1.5" stroke-linejoin="round"/>
<polyline points="410.32,295.50 420.44,290.82 430.56,301.30 440.68,320.76 450.80,338.74 460.92,347.19 471.04,364.18 481.16,367.25 491.28,382.01 501.40,386.12 511.52,391.60 521.64,391.12 531.76,396.12 541.88,405.71 552.00,413.75 562.12,422.70 572.24,418.29 582.36,403.04 592.48,387.22 602.60,367.82 612.72,380.55 622.84,401.76" fill="none" stroke="#b51414" stroke-width="1.5" stroke-linejoin="round"/>
<polyline points="410.32,295.50 420.44,291.56 430.56,303.10 440.68,322.90 450.80,341.10 460.92,350.00 471.04,366.16 481.16,369.50 491.28,384.15 501.40,387.25 511.52,392.95 521.64,392.25 531.76,397.25 541.88,406.05 552.00,413.75 562.12,422.41 572.24,417.86 582.36,403.30 592.48,388.36 602.60,369.63 612.72,381.52 622.84,402.40" fill="none" stroke="#e81818" stroke-width="1.5" stroke-linejoin="round"/>
<polyline points="410.32,295.50 420.44,292.38 430.56,305.10 440.68,325.27 450.80,343.73 460.92,353.12 471.04,368.36 481.16,372.00 491.28,386.52 501.40,388.50 511.52,394.45 521.64,393.50 531.76,398.50 541.88,406.43 552.00,413.75 562.12,422.09 572.24,417.39 582.36,403.58 592.48,389.64 602.60,371.64 612.72,382.60 622.84,403.12" fill="none" stroke="#fa271c" stroke-width="1.5" stroke-linejoin="round"/>
<polyline points="410.32,295.50 420.44,293.13 430.56,306.90 440.68,327.41 450.80,346.09 460.92,355.94 471.04,370.34 481.16,374.25 491.28,388.66 501.40,389.62 511.52,395.80 521.64,394.62 531.76,399.62 541.88,406.76 552.00,413.75 562.12,421.80 572.24,416.96 582.36,403.84 592.48,390.78 602.60,373.45 612.72,383.57 622.84,403.76" fill="none" stroke="#fa3c21" stroke-width="1.5" stroke-linejoin="round"/>
<polyline points="410.32,295.50 420.44,293.87 430.56,308.70 440.68,329.55 450.80,348.45 460.92,358.75 471.04,372.32 481.16,376.50 491.28,390.80 501.40,390.75 511.52,397.15 521.64,395.75 531.76,400.75 541.88,407.10 552.00,413.75 562.12,421.52 572.24,416.53 582.36,404.09 592.48,391.93 602.60,375.26 612.72,384.55 622.84,404.41" fill="none" stroke="#fa5026" stroke-width="1.5" stroke-linejoin="round"/>
<polyline points="410.32,295.50 420.44,294.69 430.56,310.70 440.68,331.92 450.80,351.08 460.92,361.88 471.04,374.52 481.16,379.00 491.28,393.17 501.40,392.00 511.52,398.65 521.64,397.00 531.76,402.00 541.88,407.48 552.00,413.75 562.12,421.20 572.24,416.05 582.36,404.38 592.48,393.20 602.60,377.27 612.72,385.62 622.84,405.12" fill="none" stroke="#f9622a" stroke-width="1.5" stroke-linejoin="round"/>
<polyline points="410.32,295.50 420.44,295.52 430.56,312.70 440.68,334.30 450.80,353.70 460.92,365.00 471.04,376.72 481.16,381.50 491.28,395.55 501.40,393.25 511.52,400.15 521.64,398.25 531.76,403.25 541.88,407.85 552.00,413.75 562.12,420.88 572.24,415.57 582.36,404.66 592.48,394.47 602.60,379.29 612.72,386.70 622.84,405.84" fill="none" stroke="#f8702f" stroke-width="1.5" stroke-linejoin="round"/>
<polyline points="410.32,295.50 420.44,296.51 430.56,315.10 440.68,337.15 450.80,356.85 460.92,368.75 471.04,379.36 481.16,384.50 491.28,398.40 501.40,394.75 511.52,401.95 521.64,399.75 531.76,404.75 541.88,408.30 552.00,413.75 562.12,420.50 572.24,415.00 582.36,405.00 592.48,396.00 602.60,381.70 612.72,388.00 622.84,406.70" fill="none" stroke="#f67e33" stroke-width="1.5" stroke-linejoin="round"/>
<polyline points="410.32,295.50 420.44,297.50 430.56,317.50 440.68,340.00 450.80,360.00 460.92,372.50 471.04,382.00 481.16,387.50 491.28,401.25 501.40,396.25 511.52,403.75 521.64,401.25 531.76,406.25 541.88,408.75 552.00,413.75 562.12,418.10 572.24,413.00 582.36,406.70 592.48,400.40 602.60,385.80 612.72,391.00 622.84,399.40" fill="none" stroke="#f58c37" stroke-width="1.5" stroke-linejoin="round"/>
<defs><linearGradient id="ge" x1="0" y1="1" x2="0" y2="0"><stop offset="0" stop-color="#000000"/><stop offset="0.25" stop-color="#6e0f0f"/><stop offset="0.5" stop-color="#fa1919"/><stop offset="0.75" stop-color="#fa5a28"/><stop offset="1" stop-color="#f58c37"/></linearGradient></defs>
<rect x="653.1" y="286" width="13.6" height="163.8" fill="url(#ge)"/>
<line x1="666.70" y1="286.90" x2="664.90" y2="286.90" stroke="#333" stroke-width="0.6"/>
<text x="670.30" y="290.30" font-size="9.6" text-anchor="start" font-weight="normal" fill="#222">100</text>
<line x1="666.70" y1="301.74" x2="664.90" y2="301.74" stroke="#333" stroke-width="0.6"/>
<text x="670.30" y="305.14" font-size="9.6" text-anchor="start" font-weight="normal" fill="#222">75</text>
<line x1="666.70" y1="316.58" x2="664.90" y2="316.58" stroke="#333" stroke-width="0.6"/>
<text x="670.30" y="319.98" font-size="9.6" text-anchor="start" font-weight="normal" fill="#222">50</text>
<line x1="666.70" y1="331.42" x2="664.90" y2="331.42" stroke="#333" stroke-width="0.6"/>
<text x="670.30" y="334.82" font-size="9.6" text-anchor="start" font-weight="normal" fill="#222">40</text>
<line x1="666.70" y1="346.26" x2="664.90" y2="346.26" stroke="#333" stroke-width="0.6"/>
<text x="670.30" y="349.66" font-size="9.6" text-anchor="start" font-weight="normal" fill="#222">30</text>
<line x1="666.70" y1="361.10" x2="664.90" y2="361.10" stroke="#333" stroke-width="0.6"/>
<text x="670.30" y="364.50" font-size="9.6" text-anchor="start" font-weight="normal" fill="#222">20</text>
<line x1="666.70" y1="375.94" x2="664.90" y2="375.94" stroke="#333" stroke-width="0.6"/>
<text x="670.30" y="379.34" font-size="9.6" text-anchor="start" font-weight="normal" fill="#222">15</text>
<line x1="666.70" y1="390.78" x2="664.90" y2="390.78" stroke="#333" stroke-width="0.6"/>
<text x="670.30" y="394.18" font-size="9.6" text-anchor="start" font-weight="normal" fill="#222">10</text>
<line x1="666.70" y1="405.62" x2="664.90" y2="405.62" stroke="#333" stroke-width="0.6"/>
<text x="670.30" y="409.02" font-size="9.6" text-anchor="start" font-weight="normal" fill="#222">5</text>
<line x1="666.70" y1="420.46" x2="664.90" y2="420.46" stroke="#333" stroke-width="0.6"/>
<text x="670.30" y="423.86" font-size="9.6" text-anchor="start" font-weight="normal" fill="#222">3</text>
<line x1="666.70" y1="435.30" x2="664.90" y2="435.30" stroke="#333" stroke-width="0.6"/>
<text x="670.30" y="438.70" font-size="9.6" text-anchor="start" font-weight="normal" fill="#222">1</text>
<line x1="666.70" y1="450.14" x2="664.90" y2="450.14" stroke="#333" stroke-width="0.6"/>
<text x="670.30" y="453.54" font-size="9.6" text-anchor="start" font-weight="normal" fill="#222">0</text>
<text x="660.10" y="280.60" font-size="9.5" text-anchor="middle" font-weight="normal" fill="#111"># replays</text>
</svg></body></html>
